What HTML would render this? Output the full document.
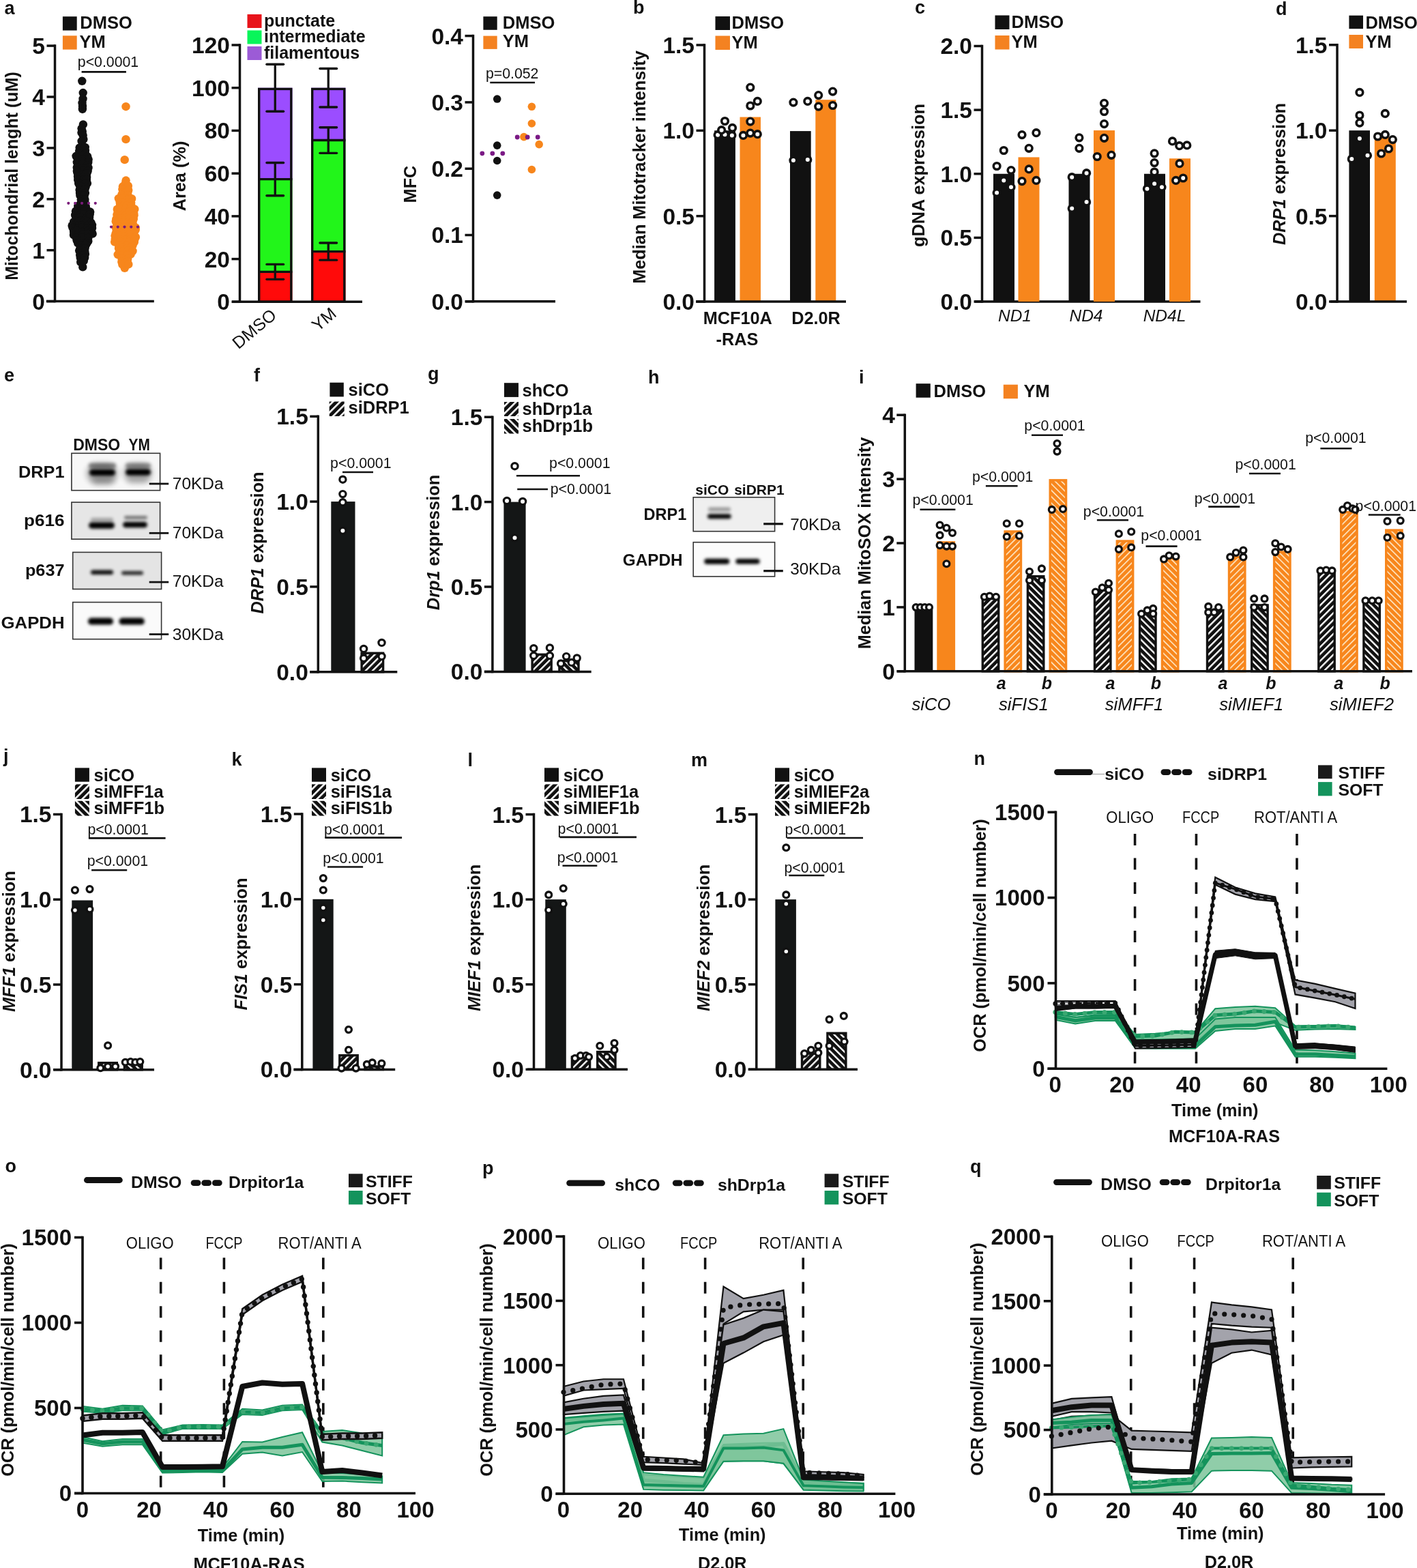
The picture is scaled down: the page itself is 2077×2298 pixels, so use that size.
<!DOCTYPE html>
<html><head><meta charset="utf-8"><title>Figure</title>
<style>html,body{margin:0;padding:0;background:#fff;} svg{display:block;} text{font-family:'Liberation Sans', sans-serif;}</style>
</head><body>
<svg width="2077" height="2298" viewBox="0 0 2077 2298" fill="#111">
<defs>
<pattern id="hA" patternUnits="userSpaceOnUse" width="7.2" height="7.2" patternTransform="rotate(45)">
<rect width="7.2" height="7.2" fill="#111"/><rect x="0" width="2.4" height="7.2" fill="#fff"/></pattern>
<pattern id="hB" patternUnits="userSpaceOnUse" width="7.2" height="7.2" patternTransform="rotate(-45)">
<rect width="7.2" height="7.2" fill="#111"/><rect x="0" width="2.4" height="7.2" fill="#fff"/></pattern>
<pattern id="hL" patternUnits="userSpaceOnUse" width="7.6" height="7.6" patternTransform="rotate(45)">
<rect width="7.6" height="7.6" fill="#111"/><rect x="0" width="2.6" height="7.6" fill="#fff"/></pattern>
<pattern id="hLB" patternUnits="userSpaceOnUse" width="7.6" height="7.6" patternTransform="rotate(-45)">
<rect width="7.6" height="7.6" fill="#111"/><rect x="0" width="2.6" height="7.6" fill="#fff"/></pattern>
<pattern id="oA" patternUnits="userSpaceOnUse" width="6.6" height="6.6" patternTransform="rotate(45)">
<rect width="6.6" height="6.6" fill="#F7861C"/><rect x="0" width="1.5" height="6.6" fill="#FFF1D6"/></pattern>
<pattern id="oB" patternUnits="userSpaceOnUse" width="6.6" height="6.6" patternTransform="rotate(-45)">
<rect width="6.6" height="6.6" fill="#F7861C"/><rect x="0" width="1.5" height="6.6" fill="#FFF1D6"/></pattern>
</defs>
<rect width="2077" height="2298" fill="#fff"/>
<text x="6.5" y="21" font-size="27" font-weight="bold">a</text>
<circle cx="120.27" cy="118.78" r="6.2" fill="#111"/>
<circle cx="121.69" cy="136.01" r="6.2" fill="#111"/>
<circle cx="121.53" cy="145" r="6.2" fill="#111"/>
<circle cx="120.51" cy="150.99" r="6.2" fill="#111"/>
<circle cx="120.99" cy="155.48" r="6.2" fill="#111"/>
<circle cx="120.9" cy="159.98" r="6.2" fill="#111"/>
<circle cx="121.3" cy="391.42" r="6.2" fill="#111"/>
<circle cx="121.87" cy="182.38" r="6.2" fill="#111"/>
<circle cx="119.59" cy="188.37" r="6.2" fill="#111"/>
<circle cx="120.8" cy="192.72" r="6.2" fill="#111"/>
<circle cx="119.51" cy="194.32" r="6.2" fill="#111"/>
<circle cx="121.66" cy="198.39" r="6.2" fill="#111"/>
<circle cx="122.34" cy="204.23" r="6.2" fill="#111"/>
<circle cx="119.59" cy="206.98" r="6.2" fill="#111"/>
<circle cx="121.12" cy="213.31" r="6.2" fill="#111"/>
<circle cx="116.64" cy="216.33" r="6.2" fill="#111"/>
<circle cx="124.77" cy="215.96" r="6.2" fill="#111"/>
<circle cx="116.17" cy="221.28" r="6.2" fill="#111"/>
<circle cx="124.99" cy="220.87" r="6.2" fill="#111"/>
<circle cx="116.19" cy="225.34" r="6.2" fill="#111"/>
<circle cx="124.88" cy="225.48" r="6.2" fill="#111"/>
<circle cx="111.56" cy="228.81" r="6.2" fill="#111"/>
<circle cx="121.17" cy="228.42" r="6.2" fill="#111"/>
<circle cx="128.06" cy="229.12" r="6.2" fill="#111"/>
<circle cx="114.08" cy="231.88" r="6.2" fill="#111"/>
<circle cx="120.5" cy="233.08" r="6.2" fill="#111"/>
<circle cx="129.63" cy="233.51" r="6.2" fill="#111"/>
<circle cx="112.77" cy="237.8" r="6.2" fill="#111"/>
<circle cx="121.51" cy="236.74" r="6.2" fill="#111"/>
<circle cx="129.26" cy="237.9" r="6.2" fill="#111"/>
<circle cx="114.04" cy="241.65" r="6.2" fill="#111"/>
<circle cx="121.27" cy="240.7" r="6.2" fill="#111"/>
<circle cx="128.23" cy="242.23" r="6.2" fill="#111"/>
<circle cx="112.74" cy="245.48" r="6.2" fill="#111"/>
<circle cx="121.15" cy="246.54" r="6.2" fill="#111"/>
<circle cx="129.52" cy="245.88" r="6.2" fill="#111"/>
<circle cx="112.82" cy="250.65" r="6.2" fill="#111"/>
<circle cx="121.84" cy="250.68" r="6.2" fill="#111"/>
<circle cx="128.68" cy="250.61" r="6.2" fill="#111"/>
<circle cx="113.59" cy="253.44" r="6.2" fill="#111"/>
<circle cx="121.61" cy="255.32" r="6.2" fill="#111"/>
<circle cx="127.28" cy="254.14" r="6.2" fill="#111"/>
<circle cx="114.01" cy="258.85" r="6.2" fill="#111"/>
<circle cx="122.45" cy="259.39" r="6.2" fill="#111"/>
<circle cx="127.12" cy="259.57" r="6.2" fill="#111"/>
<circle cx="114.2" cy="263.38" r="6.2" fill="#111"/>
<circle cx="122.36" cy="263.51" r="6.2" fill="#111"/>
<circle cx="126.88" cy="262.89" r="6.2" fill="#111"/>
<circle cx="115.14" cy="268.76" r="6.2" fill="#111"/>
<circle cx="119.52" cy="268.42" r="6.2" fill="#111"/>
<circle cx="127.96" cy="268.62" r="6.2" fill="#111"/>
<circle cx="118.22" cy="269.95" r="6.2" fill="#111"/>
<circle cx="124.56" cy="269.45" r="6.2" fill="#111"/>
<circle cx="117.28" cy="272.94" r="6.2" fill="#111"/>
<circle cx="125.61" cy="273.97" r="6.2" fill="#111"/>
<circle cx="116.6" cy="278.34" r="6.2" fill="#111"/>
<circle cx="124.45" cy="278.04" r="6.2" fill="#111"/>
<circle cx="117.04" cy="282.91" r="6.2" fill="#111"/>
<circle cx="124.87" cy="283.05" r="6.2" fill="#111"/>
<circle cx="117.37" cy="286.39" r="6.2" fill="#111"/>
<circle cx="123.69" cy="286.68" r="6.2" fill="#111"/>
<circle cx="118.75" cy="292.52" r="6.2" fill="#111"/>
<circle cx="124.4" cy="292.39" r="6.2" fill="#111"/>
<circle cx="119.45" cy="295.81" r="6.2" fill="#111"/>
<circle cx="124.53" cy="296.65" r="6.2" fill="#111"/>
<circle cx="117.25" cy="299.83" r="6.2" fill="#111"/>
<circle cx="122.04" cy="301.31" r="6.2" fill="#111"/>
<circle cx="114.25" cy="302.25" r="6.2" fill="#111"/>
<circle cx="121.37" cy="302.72" r="6.2" fill="#111"/>
<circle cx="125.71" cy="302.35" r="6.2" fill="#111"/>
<circle cx="115.08" cy="306.87" r="6.2" fill="#111"/>
<circle cx="120.32" cy="307.96" r="6.2" fill="#111"/>
<circle cx="126.86" cy="307.18" r="6.2" fill="#111"/>
<circle cx="110.92" cy="309.57" r="6.2" fill="#111"/>
<circle cx="117.33" cy="310.37" r="6.2" fill="#111"/>
<circle cx="123.4" cy="309.74" r="6.2" fill="#111"/>
<circle cx="132.2" cy="310.55" r="6.2" fill="#111"/>
<circle cx="110.13" cy="315.24" r="6.2" fill="#111"/>
<circle cx="118.62" cy="314.07" r="6.2" fill="#111"/>
<circle cx="122.89" cy="314.32" r="6.2" fill="#111"/>
<circle cx="131.66" cy="314.35" r="6.2" fill="#111"/>
<circle cx="111.61" cy="319.88" r="6.2" fill="#111"/>
<circle cx="117.8" cy="318.97" r="6.2" fill="#111"/>
<circle cx="125.76" cy="320.12" r="6.2" fill="#111"/>
<circle cx="131.05" cy="318.97" r="6.2" fill="#111"/>
<circle cx="111.45" cy="323.81" r="6.2" fill="#111"/>
<circle cx="117.89" cy="323.67" r="6.2" fill="#111"/>
<circle cx="124.73" cy="323.14" r="6.2" fill="#111"/>
<circle cx="130.4" cy="324.96" r="6.2" fill="#111"/>
<circle cx="108.13" cy="325.12" r="6.2" fill="#111"/>
<circle cx="115.08" cy="325.13" r="6.2" fill="#111"/>
<circle cx="122.32" cy="325.99" r="6.2" fill="#111"/>
<circle cx="127.75" cy="325.01" r="6.2" fill="#111"/>
<circle cx="133.53" cy="326.26" r="6.2" fill="#111"/>
<circle cx="105.61" cy="330.64" r="6.2" fill="#111"/>
<circle cx="115.39" cy="330.15" r="6.2" fill="#111"/>
<circle cx="120.01" cy="330.74" r="6.2" fill="#111"/>
<circle cx="129.42" cy="330.41" r="6.2" fill="#111"/>
<circle cx="135.03" cy="329.76" r="6.2" fill="#111"/>
<circle cx="106.54" cy="333.92" r="6.2" fill="#111"/>
<circle cx="114.52" cy="334.37" r="6.2" fill="#111"/>
<circle cx="120.08" cy="333.71" r="6.2" fill="#111"/>
<circle cx="128.5" cy="334.1" r="6.2" fill="#111"/>
<circle cx="135" cy="334.16" r="6.2" fill="#111"/>
<circle cx="108.11" cy="339.8" r="6.2" fill="#111"/>
<circle cx="112.55" cy="338.41" r="6.2" fill="#111"/>
<circle cx="120.48" cy="339.98" r="6.2" fill="#111"/>
<circle cx="128.85" cy="338.68" r="6.2" fill="#111"/>
<circle cx="134.14" cy="339.35" r="6.2" fill="#111"/>
<circle cx="108.01" cy="344.37" r="6.2" fill="#111"/>
<circle cx="113.53" cy="344.27" r="6.2" fill="#111"/>
<circle cx="121.56" cy="343.47" r="6.2" fill="#111"/>
<circle cx="129.46" cy="342.97" r="6.2" fill="#111"/>
<circle cx="135.68" cy="342.67" r="6.2" fill="#111"/>
<circle cx="112.01" cy="348.8" r="6.2" fill="#111"/>
<circle cx="120.14" cy="348.49" r="6.2" fill="#111"/>
<circle cx="129.3" cy="348.66" r="6.2" fill="#111"/>
<circle cx="112.6" cy="352.16" r="6.2" fill="#111"/>
<circle cx="120.37" cy="353.21" r="6.2" fill="#111"/>
<circle cx="129.31" cy="353.38" r="6.2" fill="#111"/>
<circle cx="114.16" cy="356.25" r="6.2" fill="#111"/>
<circle cx="121.15" cy="356.18" r="6.2" fill="#111"/>
<circle cx="127.62" cy="356.12" r="6.2" fill="#111"/>
<circle cx="118.1" cy="359.79" r="6.2" fill="#111"/>
<circle cx="125.99" cy="358.89" r="6.2" fill="#111"/>
<circle cx="117.35" cy="364.27" r="6.2" fill="#111"/>
<circle cx="124.63" cy="363.85" r="6.2" fill="#111"/>
<circle cx="116.17" cy="367.37" r="6.2" fill="#111"/>
<circle cx="124.3" cy="368.99" r="6.2" fill="#111"/>
<circle cx="117.19" cy="373.56" r="6.2" fill="#111"/>
<circle cx="124.87" cy="372.26" r="6.2" fill="#111"/>
<circle cx="119.86" cy="374.85" r="6.2" fill="#111"/>
<circle cx="121.54" cy="374.53" r="6.2" fill="#111"/>
<circle cx="117.78" cy="377.92" r="6.2" fill="#111"/>
<circle cx="124.16" cy="377.77" r="6.2" fill="#111"/>
<circle cx="118.22" cy="384.17" r="6.2" fill="#111"/>
<circle cx="122.76" cy="382.42" r="6.2" fill="#111"/>
<circle cx="184.51" cy="156.23" r="6.2" fill="#F7861C"/>
<circle cx="184.5" cy="204.17" r="6.2" fill="#F7861C"/>
<circle cx="182.71" cy="234.13" r="6.2" fill="#F7861C"/>
<circle cx="182.77" cy="392.92" r="6.2" fill="#F7861C"/>
<circle cx="184.61" cy="264.56" r="6.2" fill="#F7861C"/>
<circle cx="184.11" cy="268.2" r="6.2" fill="#F7861C"/>
<circle cx="179.92" cy="273.29" r="6.2" fill="#F7861C"/>
<circle cx="187.84" cy="272.39" r="6.2" fill="#F7861C"/>
<circle cx="179.39" cy="277.36" r="6.2" fill="#F7861C"/>
<circle cx="188.27" cy="278.56" r="6.2" fill="#F7861C"/>
<circle cx="180.95" cy="282.16" r="6.2" fill="#F7861C"/>
<circle cx="187.43" cy="281.61" r="6.2" fill="#F7861C"/>
<circle cx="178.21" cy="285.63" r="6.2" fill="#F7861C"/>
<circle cx="187.49" cy="286.21" r="6.2" fill="#F7861C"/>
<circle cx="179.24" cy="291.86" r="6.2" fill="#F7861C"/>
<circle cx="187.68" cy="291.2" r="6.2" fill="#F7861C"/>
<circle cx="173.81" cy="290.85" r="6.2" fill="#F7861C"/>
<circle cx="180.08" cy="291.07" r="6.2" fill="#F7861C"/>
<circle cx="186.63" cy="292.8" r="6.2" fill="#F7861C"/>
<circle cx="193.12" cy="291.16" r="6.2" fill="#F7861C"/>
<circle cx="175.78" cy="296.89" r="6.2" fill="#F7861C"/>
<circle cx="181.3" cy="297.11" r="6.2" fill="#F7861C"/>
<circle cx="187.39" cy="296.88" r="6.2" fill="#F7861C"/>
<circle cx="192.16" cy="297.26" r="6.2" fill="#F7861C"/>
<circle cx="175.99" cy="300.12" r="6.2" fill="#F7861C"/>
<circle cx="181.36" cy="301.23" r="6.2" fill="#F7861C"/>
<circle cx="186.48" cy="300.86" r="6.2" fill="#F7861C"/>
<circle cx="192.57" cy="301.65" r="6.2" fill="#F7861C"/>
<circle cx="174.6" cy="305.96" r="6.2" fill="#F7861C"/>
<circle cx="180.16" cy="306.07" r="6.2" fill="#F7861C"/>
<circle cx="187.8" cy="305.22" r="6.2" fill="#F7861C"/>
<circle cx="192.8" cy="306.14" r="6.2" fill="#F7861C"/>
<circle cx="171.77" cy="306.75" r="6.2" fill="#F7861C"/>
<circle cx="176.52" cy="306.43" r="6.2" fill="#F7861C"/>
<circle cx="184.2" cy="306.11" r="6.2" fill="#F7861C"/>
<circle cx="191.07" cy="306.32" r="6.2" fill="#F7861C"/>
<circle cx="197.33" cy="306.4" r="6.2" fill="#F7861C"/>
<circle cx="172.47" cy="311.69" r="6.2" fill="#F7861C"/>
<circle cx="177.36" cy="311.32" r="6.2" fill="#F7861C"/>
<circle cx="184.05" cy="311.46" r="6.2" fill="#F7861C"/>
<circle cx="189.29" cy="310.7" r="6.2" fill="#F7861C"/>
<circle cx="196.14" cy="312.15" r="6.2" fill="#F7861C"/>
<circle cx="171.47" cy="314.93" r="6.2" fill="#F7861C"/>
<circle cx="178.31" cy="316.23" r="6.2" fill="#F7861C"/>
<circle cx="184.82" cy="315.16" r="6.2" fill="#F7861C"/>
<circle cx="190.58" cy="314.9" r="6.2" fill="#F7861C"/>
<circle cx="196.56" cy="315.33" r="6.2" fill="#F7861C"/>
<circle cx="170.28" cy="321.03" r="6.2" fill="#F7861C"/>
<circle cx="176.17" cy="320.32" r="6.2" fill="#F7861C"/>
<circle cx="184.66" cy="319.77" r="6.2" fill="#F7861C"/>
<circle cx="188.98" cy="321.04" r="6.2" fill="#F7861C"/>
<circle cx="195.87" cy="320.71" r="6.2" fill="#F7861C"/>
<circle cx="169.7" cy="324.5" r="6.2" fill="#F7861C"/>
<circle cx="176.37" cy="325.13" r="6.2" fill="#F7861C"/>
<circle cx="182.35" cy="325.69" r="6.2" fill="#F7861C"/>
<circle cx="188.43" cy="325.24" r="6.2" fill="#F7861C"/>
<circle cx="194.66" cy="324.29" r="6.2" fill="#F7861C"/>
<circle cx="172.04" cy="328.59" r="6.2" fill="#F7861C"/>
<circle cx="176.4" cy="329.66" r="6.2" fill="#F7861C"/>
<circle cx="183.26" cy="328.37" r="6.2" fill="#F7861C"/>
<circle cx="191.32" cy="328.58" r="6.2" fill="#F7861C"/>
<circle cx="194.71" cy="328.97" r="6.2" fill="#F7861C"/>
<circle cx="169.95" cy="333.48" r="6.2" fill="#F7861C"/>
<circle cx="175.44" cy="332.67" r="6.2" fill="#F7861C"/>
<circle cx="182.19" cy="332.89" r="6.2" fill="#F7861C"/>
<circle cx="191.4" cy="333.47" r="6.2" fill="#F7861C"/>
<circle cx="198.81" cy="333.51" r="6.2" fill="#F7861C"/>
<circle cx="170.69" cy="337.91" r="6.2" fill="#F7861C"/>
<circle cx="176.52" cy="336.95" r="6.2" fill="#F7861C"/>
<circle cx="184.08" cy="337.13" r="6.2" fill="#F7861C"/>
<circle cx="189.41" cy="337.39" r="6.2" fill="#F7861C"/>
<circle cx="198.72" cy="336.75" r="6.2" fill="#F7861C"/>
<circle cx="169.85" cy="341.78" r="6.2" fill="#F7861C"/>
<circle cx="176.64" cy="341.28" r="6.2" fill="#F7861C"/>
<circle cx="184.98" cy="341.51" r="6.2" fill="#F7861C"/>
<circle cx="190.92" cy="341.83" r="6.2" fill="#F7861C"/>
<circle cx="196.15" cy="342.11" r="6.2" fill="#F7861C"/>
<circle cx="168.52" cy="345.61" r="6.2" fill="#F7861C"/>
<circle cx="175.2" cy="345.82" r="6.2" fill="#F7861C"/>
<circle cx="182.39" cy="346.77" r="6.2" fill="#F7861C"/>
<circle cx="190.62" cy="347.46" r="6.2" fill="#F7861C"/>
<circle cx="198.9" cy="347.48" r="6.2" fill="#F7861C"/>
<circle cx="168.8" cy="350.88" r="6.2" fill="#F7861C"/>
<circle cx="175.85" cy="351.18" r="6.2" fill="#F7861C"/>
<circle cx="183.97" cy="351.6" r="6.2" fill="#F7861C"/>
<circle cx="191.23" cy="350.51" r="6.2" fill="#F7861C"/>
<circle cx="197.37" cy="351.05" r="6.2" fill="#F7861C"/>
<circle cx="168.11" cy="354.57" r="6.2" fill="#F7861C"/>
<circle cx="176.33" cy="354.72" r="6.2" fill="#F7861C"/>
<circle cx="184.27" cy="354.98" r="6.2" fill="#F7861C"/>
<circle cx="189.4" cy="354.86" r="6.2" fill="#F7861C"/>
<circle cx="196.79" cy="354.93" r="6.2" fill="#F7861C"/>
<circle cx="174.16" cy="359.14" r="6.2" fill="#F7861C"/>
<circle cx="179.86" cy="359.49" r="6.2" fill="#F7861C"/>
<circle cx="185.9" cy="360.02" r="6.2" fill="#F7861C"/>
<circle cx="194.49" cy="359.67" r="6.2" fill="#F7861C"/>
<circle cx="173.9" cy="363.73" r="6.2" fill="#F7861C"/>
<circle cx="180.68" cy="362.81" r="6.2" fill="#F7861C"/>
<circle cx="186.52" cy="363.76" r="6.2" fill="#F7861C"/>
<circle cx="192.14" cy="362.9" r="6.2" fill="#F7861C"/>
<circle cx="175.01" cy="367.94" r="6.2" fill="#F7861C"/>
<circle cx="180.49" cy="369.05" r="6.2" fill="#F7861C"/>
<circle cx="187.1" cy="367.79" r="6.2" fill="#F7861C"/>
<circle cx="194.55" cy="367.95" r="6.2" fill="#F7861C"/>
<circle cx="172.66" cy="373.08" r="6.2" fill="#F7861C"/>
<circle cx="179.24" cy="372.32" r="6.2" fill="#F7861C"/>
<circle cx="187.79" cy="373.06" r="6.2" fill="#F7861C"/>
<circle cx="191.65" cy="372.61" r="6.2" fill="#F7861C"/>
<circle cx="179.33" cy="374.16" r="6.2" fill="#F7861C"/>
<circle cx="186.72" cy="374.37" r="6.2" fill="#F7861C"/>
<circle cx="178.32" cy="378.26" r="6.2" fill="#F7861C"/>
<circle cx="187.22" cy="379.56" r="6.2" fill="#F7861C"/>
<circle cx="178.33" cy="383.7" r="6.2" fill="#F7861C"/>
<circle cx="186.68" cy="383.33" r="6.2" fill="#F7861C"/>
<circle cx="179.28" cy="387.62" r="6.2" fill="#F7861C"/>
<circle cx="188.36" cy="387.48" r="6.2" fill="#F7861C"/>
<circle cx="100.3" cy="297.79" r="2.1" fill="#7a1a7a"/>
<circle cx="110.17" cy="297.79" r="2.1" fill="#7a1a7a"/>
<circle cx="120.05" cy="297.79" r="2.1" fill="#7a1a7a"/>
<circle cx="129.93" cy="297.79" r="2.1" fill="#7a1a7a"/>
<circle cx="139.8" cy="297.79" r="2.1" fill="#7a1a7a"/>
<circle cx="163" cy="332.55" r="2.1" fill="#7a1a7a"/>
<circle cx="172.75" cy="332.55" r="2.1" fill="#7a1a7a"/>
<circle cx="182.5" cy="332.55" r="2.1" fill="#7a1a7a"/>
<circle cx="192.25" cy="332.55" r="2.1" fill="#7a1a7a"/>
<circle cx="202" cy="332.55" r="2.1" fill="#7a1a7a"/>
<line x1="80.5" y1="65.35" x2="80.5" y2="443.35" stroke="#111" stroke-width="3.5"/>
<line x1="67.8" y1="441.6" x2="225.8" y2="441.6" stroke="#111" stroke-width="3.5"/>
<line x1="68.5" y1="441.6" x2="80.5" y2="441.6" stroke="#111" stroke-width="3.5"/>
<text x="66" y="453.59" font-size="33.5" font-weight="bold" text-anchor="end">0</text>
<line x1="68.5" y1="366.7" x2="80.5" y2="366.7" stroke="#111" stroke-width="3.5"/>
<text x="66" y="378.69" font-size="33.5" font-weight="bold" text-anchor="end">1</text>
<line x1="68.5" y1="291.8" x2="80.5" y2="291.8" stroke="#111" stroke-width="3.5"/>
<text x="66" y="303.79" font-size="33.5" font-weight="bold" text-anchor="end">2</text>
<line x1="68.5" y1="216.9" x2="80.5" y2="216.9" stroke="#111" stroke-width="3.5"/>
<text x="66" y="228.89" font-size="33.5" font-weight="bold" text-anchor="end">3</text>
<line x1="68.5" y1="142" x2="80.5" y2="142" stroke="#111" stroke-width="3.5"/>
<text x="66" y="153.99" font-size="33.5" font-weight="bold" text-anchor="end">4</text>
<line x1="68.5" y1="67.1" x2="80.5" y2="67.1" stroke="#111" stroke-width="3.5"/>
<text x="66" y="79.09" font-size="33.5" font-weight="bold" text-anchor="end">5</text>
<rect x="91.9" y="24.2" width="20.8" height="20.4" fill="#111"/>
<text x="117.3" y="42.1" font-size="25.5" font-weight="bold">DMSO</text>
<rect x="91.9" y="52.3" width="20.8" height="20.3" fill="#F48221"/>
<text x="116.5" y="69.6" font-size="25.5" font-weight="bold">YM</text>
<line x1="119.6" y1="105.4" x2="184.9" y2="105.4" stroke="#111" stroke-width="2.6"/>
<text x="113.8" y="98.4" font-size="21.3">p&lt;0.0001</text>
<text x="25.5" y="258" font-size="25" font-weight="bold" text-anchor="middle" transform="rotate(-90 25.5 258)">Mitochondrial lenght (uM)</text>
<rect x="378" y="398.4" width="50.5" height="43.9" fill="#FF0A0A"/>
<rect x="378" y="262.62" width="50.5" height="135.78" fill="#22F51A"/>
<rect x="378" y="128.72" width="50.5" height="133.9" fill="#9B4DFF"/>
<rect x="379.7" y="130.42" width="47.1" height="311.88" fill="none" stroke="#111" stroke-width="3.4"/>
<line x1="378" y1="398.4" x2="428.5" y2="398.4" stroke="#111" stroke-width="3.4"/>
<line x1="378" y1="262.62" x2="428.5" y2="262.62" stroke="#111" stroke-width="3.4"/>
<line x1="403.25" y1="94.22" x2="403.25" y2="163.21" stroke="#111" stroke-width="3.3"/>
<line x1="390.95" y1="94.22" x2="415.55" y2="94.22" stroke="#111" stroke-width="3.4" stroke-linecap="round"/>
<line x1="390.95" y1="163.21" x2="415.55" y2="163.21" stroke="#111" stroke-width="3.4" stroke-linecap="round"/>
<line x1="403.25" y1="238.47" x2="403.25" y2="286.76" stroke="#111" stroke-width="3.3"/>
<line x1="390.95" y1="238.47" x2="415.55" y2="238.47" stroke="#111" stroke-width="3.4" stroke-linecap="round"/>
<line x1="390.95" y1="286.76" x2="415.55" y2="286.76" stroke="#111" stroke-width="3.4" stroke-linecap="round"/>
<line x1="403.25" y1="387.42" x2="403.25" y2="409.37" stroke="#111" stroke-width="3.3"/>
<line x1="390.95" y1="387.42" x2="415.55" y2="387.42" stroke="#111" stroke-width="3.4" stroke-linecap="round"/>
<line x1="390.95" y1="409.37" x2="415.55" y2="409.37" stroke="#111" stroke-width="3.4" stroke-linecap="round"/>
<rect x="456" y="368.61" width="50.5" height="73.69" fill="#FF0A0A"/>
<rect x="456" y="205.54" width="50.5" height="163.06" fill="#22F51A"/>
<rect x="456" y="128.72" width="50.5" height="76.83" fill="#9B4DFF"/>
<rect x="457.7" y="130.42" width="47.1" height="311.88" fill="none" stroke="#111" stroke-width="3.4"/>
<line x1="456" y1="368.61" x2="506.5" y2="368.61" stroke="#111" stroke-width="3.4"/>
<line x1="456" y1="205.54" x2="506.5" y2="205.54" stroke="#111" stroke-width="3.4"/>
<line x1="481.25" y1="100.49" x2="481.25" y2="156.94" stroke="#111" stroke-width="3.3"/>
<line x1="468.95" y1="100.49" x2="493.55" y2="100.49" stroke="#111" stroke-width="3.4" stroke-linecap="round"/>
<line x1="468.95" y1="156.94" x2="493.55" y2="156.94" stroke="#111" stroke-width="3.4" stroke-linecap="round"/>
<line x1="481.25" y1="186.73" x2="481.25" y2="224.36" stroke="#111" stroke-width="3.3"/>
<line x1="468.95" y1="186.73" x2="493.55" y2="186.73" stroke="#111" stroke-width="3.4" stroke-linecap="round"/>
<line x1="468.95" y1="224.36" x2="493.55" y2="224.36" stroke="#111" stroke-width="3.4" stroke-linecap="round"/>
<line x1="481.25" y1="356.06" x2="481.25" y2="381.15" stroke="#111" stroke-width="3.3"/>
<line x1="468.95" y1="356.06" x2="493.55" y2="356.06" stroke="#111" stroke-width="3.4" stroke-linecap="round"/>
<line x1="468.95" y1="381.15" x2="493.55" y2="381.15" stroke="#111" stroke-width="3.4" stroke-linecap="round"/>
<line x1="351.5" y1="64.25" x2="351.5" y2="444.05" stroke="#111" stroke-width="3.5"/>
<line x1="340" y1="442.3" x2="531" y2="442.3" stroke="#111" stroke-width="3.5"/>
<line x1="339.5" y1="442.3" x2="351.5" y2="442.3" stroke="#111" stroke-width="3.5"/>
<text x="337" y="454.29" font-size="33.5" font-weight="bold" text-anchor="end">0</text>
<line x1="339.5" y1="379.58" x2="351.5" y2="379.58" stroke="#111" stroke-width="3.5"/>
<text x="337" y="391.58" font-size="33.5" font-weight="bold" text-anchor="end">20</text>
<line x1="339.5" y1="316.87" x2="351.5" y2="316.87" stroke="#111" stroke-width="3.5"/>
<text x="337" y="328.86" font-size="33.5" font-weight="bold" text-anchor="end">40</text>
<line x1="339.5" y1="254.15" x2="351.5" y2="254.15" stroke="#111" stroke-width="3.5"/>
<text x="337" y="266.14" font-size="33.5" font-weight="bold" text-anchor="end">60</text>
<line x1="339.5" y1="191.43" x2="351.5" y2="191.43" stroke="#111" stroke-width="3.5"/>
<text x="337" y="203.43" font-size="33.5" font-weight="bold" text-anchor="end">80</text>
<line x1="339.5" y1="128.72" x2="351.5" y2="128.72" stroke="#111" stroke-width="3.5"/>
<text x="337" y="140.71" font-size="33.5" font-weight="bold" text-anchor="end">100</text>
<line x1="339.5" y1="66" x2="351.5" y2="66" stroke="#111" stroke-width="3.5"/>
<text x="337" y="77.99" font-size="33.5" font-weight="bold" text-anchor="end">120</text>
<rect x="362.5" y="21" width="21" height="20" fill="#E8141B"/>
<text x="387" y="38.5" font-size="24.99" font-weight="bold">punctate</text>
<rect x="362.5" y="44.5" width="21" height="20" fill="#08F55A"/>
<text x="387" y="62" font-size="24.99" font-weight="bold">intermediate</text>
<rect x="362.5" y="68" width="21" height="20" fill="#9C5BD6"/>
<text x="387" y="85.5" font-size="24.99" font-weight="bold">filamentous</text>
<text x="349.5" y="512.6" font-size="25" transform="rotate(-40 349.5 512.6)">DMSO</text>
<text x="466" y="486.5" font-size="25" transform="rotate(-40 466 486.5)">YM</text>
<text x="271.5" y="258" font-size="25.3" font-weight="bold" text-anchor="middle" transform="rotate(-90 271.5 258)">Area (%)</text>
<line x1="693.5" y1="50.85" x2="693.5" y2="443.55" stroke="#111" stroke-width="3.5"/>
<line x1="682" y1="441.8" x2="814" y2="441.8" stroke="#111" stroke-width="3.5"/>
<line x1="681.5" y1="441.8" x2="693.5" y2="441.8" stroke="#111" stroke-width="3.5"/>
<text x="679" y="453.79" font-size="33.5" font-weight="bold" text-anchor="end">0.0</text>
<line x1="681.5" y1="344.5" x2="693.5" y2="344.5" stroke="#111" stroke-width="3.5"/>
<text x="679" y="356.49" font-size="33.5" font-weight="bold" text-anchor="end">0.1</text>
<line x1="681.5" y1="247.2" x2="693.5" y2="247.2" stroke="#111" stroke-width="3.5"/>
<text x="679" y="259.19" font-size="33.5" font-weight="bold" text-anchor="end">0.2</text>
<line x1="681.5" y1="149.9" x2="693.5" y2="149.9" stroke="#111" stroke-width="3.5"/>
<text x="679" y="161.89" font-size="33.5" font-weight="bold" text-anchor="end">0.3</text>
<line x1="681.5" y1="52.6" x2="693.5" y2="52.6" stroke="#111" stroke-width="3.5"/>
<text x="679" y="64.59" font-size="33.5" font-weight="bold" text-anchor="end">0.4</text>
<rect x="708.4" y="24.2" width="20.3" height="19.6" fill="#111"/>
<text x="736.8" y="41.5" font-size="25.5" font-weight="bold">DMSO</text>
<rect x="708.4" y="52.6" width="20.3" height="19.3" fill="#F48221"/>
<text x="736.8" y="69.2" font-size="25.5" font-weight="bold">YM</text>
<line x1="718.3" y1="121" x2="784" y2="121" stroke="#111" stroke-width="2.6"/>
<text x="711.9" y="115.3" font-size="21.3">p=0.052</text>
<circle cx="728.7" cy="145.04" r="5.8" fill="#111"/>
<circle cx="728.7" cy="213.15" r="5.8" fill="#111"/>
<circle cx="728.7" cy="235.52" r="5.8" fill="#111"/>
<circle cx="728.7" cy="286.12" r="5.8" fill="#111"/>
<circle cx="779.4" cy="156.3" r="5.8" fill="#F7861C"/>
<circle cx="779.4" cy="181" r="5.8" fill="#F7861C"/>
<circle cx="767.9" cy="200.6" r="5.8" fill="#F7861C"/>
<circle cx="790.2" cy="211.6" r="5.8" fill="#F7861C"/>
<circle cx="779.4" cy="248.5" r="5.8" fill="#F7861C"/>
<circle cx="706.8" cy="224.8" r="3.4" fill="#7B1A85"/>
<circle cx="721.8" cy="224.8" r="3.4" fill="#7B1A85"/>
<circle cx="736.8" cy="224.8" r="3.4" fill="#7B1A85"/>
<circle cx="758.2" cy="201" r="3.4" fill="#7B1A85"/>
<circle cx="773.2" cy="201" r="3.4" fill="#7B1A85"/>
<circle cx="788.2" cy="201" r="3.4" fill="#7B1A85"/>
<text x="610" y="270" font-size="25.3" font-weight="bold" text-anchor="middle" transform="rotate(-90 610 270)">MFC</text>
<text x="928" y="20" font-size="27" font-weight="bold">b</text>
<rect x="1047.1" y="191.33" width="30.8" height="250.67" fill="#111"/>
<rect x="1084.5" y="171.53" width="30.5" height="270.47" fill="#F7861C"/>
<rect x="1158" y="192.09" width="30.7" height="249.91" fill="#111"/>
<rect x="1195.3" y="146.21" width="30" height="295.79" fill="#F7861C"/>
<line x1="1032.5" y1="64.25" x2="1032.5" y2="443.75" stroke="#111" stroke-width="3.5"/>
<line x1="1020" y1="442" x2="1240" y2="442" stroke="#111" stroke-width="3.5"/>
<line x1="1020.5" y1="442" x2="1032.5" y2="442" stroke="#111" stroke-width="3.5"/>
<text x="1018" y="453.99" font-size="33.5" font-weight="bold" text-anchor="end">0.0</text>
<line x1="1020.5" y1="316.67" x2="1032.5" y2="316.67" stroke="#111" stroke-width="3.5"/>
<text x="1018" y="328.66" font-size="33.5" font-weight="bold" text-anchor="end">0.5</text>
<line x1="1020.5" y1="191.33" x2="1032.5" y2="191.33" stroke="#111" stroke-width="3.5"/>
<text x="1018" y="203.33" font-size="33.5" font-weight="bold" text-anchor="end">1.0</text>
<line x1="1020.5" y1="66" x2="1032.5" y2="66" stroke="#111" stroke-width="3.5"/>
<text x="1018" y="77.99" font-size="33.5" font-weight="bold" text-anchor="end">1.5</text>
<circle cx="1052.1" cy="197.8" r="4.8" fill="#fff" stroke="#111" stroke-width="3.6"/>
<circle cx="1062.5" cy="197.3" r="4.8" fill="#fff" stroke="#111" stroke-width="3.6"/>
<circle cx="1072.9" cy="198.4" r="4.8" fill="#fff" stroke="#111" stroke-width="3.6"/>
<circle cx="1057.6" cy="190.7" r="4.8" fill="#fff" stroke="#111" stroke-width="3.6"/>
<circle cx="1073.5" cy="187.4" r="4.8" fill="#fff" stroke="#111" stroke-width="3.6"/>
<circle cx="1062.5" cy="177.5" r="4.8" fill="#fff" stroke="#111" stroke-width="3.6"/>
<circle cx="1089.4" cy="198.4" r="4.8" fill="#fff" stroke="#111" stroke-width="3.6"/>
<circle cx="1099.8" cy="195.1" r="4.8" fill="#fff" stroke="#111" stroke-width="3.6"/>
<circle cx="1110.3" cy="196.7" r="4.8" fill="#fff" stroke="#111" stroke-width="3.6"/>
<circle cx="1099.8" cy="178.1" r="4.8" fill="#fff" stroke="#111" stroke-width="3.6"/>
<circle cx="1099.8" cy="155" r="4.8" fill="#fff" stroke="#111" stroke-width="3.6"/>
<circle cx="1110.3" cy="148.4" r="4.8" fill="#fff" stroke="#111" stroke-width="3.6"/>
<circle cx="1099.8" cy="128.1" r="4.8" fill="#fff" stroke="#111" stroke-width="3.6"/>
<circle cx="1162.9" cy="150.1" r="4.8" fill="#fff" stroke="#111" stroke-width="3.6"/>
<circle cx="1183.8" cy="148.4" r="4.8" fill="#fff" stroke="#111" stroke-width="3.6"/>
<circle cx="1162.9" cy="235.1" r="4.8" fill="#fff" stroke="#111" stroke-width="3.6"/>
<circle cx="1183.8" cy="234" r="4.8" fill="#fff" stroke="#111" stroke-width="3.6"/>
<circle cx="1199.7" cy="139.6" r="4.8" fill="#fff" stroke="#111" stroke-width="3.6"/>
<circle cx="1220.6" cy="134.1" r="4.8" fill="#fff" stroke="#111" stroke-width="3.6"/>
<circle cx="1199.7" cy="156.1" r="4.8" fill="#fff" stroke="#111" stroke-width="3.6"/>
<circle cx="1220.6" cy="154.5" r="4.8" fill="#fff" stroke="#111" stroke-width="3.6"/>
<rect x="1048.5" y="24" width="21.5" height="20" fill="#111"/>
<text x="1072.5" y="42" font-size="25.5" font-weight="bold">DMSO</text>
<rect x="1048.5" y="52.5" width="21.5" height="20.5" fill="#F48221"/>
<text x="1072.5" y="71" font-size="25.5" font-weight="bold">YM</text>
<text x="1081.3" y="475.3" font-size="25.3" font-weight="bold" text-anchor="middle">MCF10A</text>
<text x="1080.5" y="505.5" font-size="25.3" font-weight="bold" text-anchor="middle">-RAS</text>
<text x="1196" y="475.3" font-size="25.3" font-weight="bold" text-anchor="middle">D2.0R</text>
<text x="946" y="245" font-size="25.3" font-weight="bold" text-anchor="middle" transform="rotate(-90 946 245)">Median Mitotracker intensity</text>
<text x="1341" y="20" font-size="27" font-weight="bold">c</text>
<line x1="1439.5" y1="65.75" x2="1439.5" y2="443.75" stroke="#111" stroke-width="3.5"/>
<line x1="1428.5" y1="442" x2="1759.5" y2="442" stroke="#111" stroke-width="3.5"/>
<line x1="1427.5" y1="442" x2="1439.5" y2="442" stroke="#111" stroke-width="3.5"/>
<text x="1425" y="453.99" font-size="33.5" font-weight="bold" text-anchor="end">0.0</text>
<line x1="1427.5" y1="348.38" x2="1439.5" y2="348.38" stroke="#111" stroke-width="3.5"/>
<text x="1425" y="360.37" font-size="33.5" font-weight="bold" text-anchor="end">0.5</text>
<line x1="1427.5" y1="254.75" x2="1439.5" y2="254.75" stroke="#111" stroke-width="3.5"/>
<text x="1425" y="266.74" font-size="33.5" font-weight="bold" text-anchor="end">1.0</text>
<line x1="1427.5" y1="161.12" x2="1439.5" y2="161.12" stroke="#111" stroke-width="3.5"/>
<text x="1425" y="173.12" font-size="33.5" font-weight="bold" text-anchor="end">1.5</text>
<line x1="1427.5" y1="67.5" x2="1439.5" y2="67.5" stroke="#111" stroke-width="3.5"/>
<text x="1425" y="79.49" font-size="33.5" font-weight="bold" text-anchor="end">2.0</text>
<rect x="1456" y="254.75" width="31" height="187.25" fill="#111"/>
<rect x="1492.5" y="230.41" width="31" height="211.59" fill="#F7861C"/>
<rect x="1566.5" y="254.75" width="31" height="187.25" fill="#111"/>
<rect x="1603" y="191.08" width="31" height="250.92" fill="#F7861C"/>
<rect x="1677" y="254.75" width="31" height="187.25" fill="#111"/>
<rect x="1714" y="232.28" width="31" height="209.72" fill="#F7861C"/>
<circle cx="1461.1" cy="243.5" r="4.8" fill="#fff" stroke="#111" stroke-width="3.6"/>
<circle cx="1471.3" cy="220.5" r="4.8" fill="#fff" stroke="#111" stroke-width="3.6"/>
<circle cx="1482" cy="249.6" r="4.8" fill="#fff" stroke="#111" stroke-width="3.6"/>
<circle cx="1471.3" cy="264.4" r="4.8" fill="#fff" stroke="#111" stroke-width="3.6"/>
<circle cx="1482" cy="274.3" r="4.8" fill="#fff" stroke="#111" stroke-width="3.6"/>
<circle cx="1461.1" cy="282.6" r="4.8" fill="#fff" stroke="#111" stroke-width="3.6"/>
<circle cx="1498" cy="197.6" r="4.8" fill="#fff" stroke="#111" stroke-width="3.6"/>
<circle cx="1518.9" cy="194.7" r="4.8" fill="#fff" stroke="#111" stroke-width="3.6"/>
<circle cx="1508.2" cy="217.3" r="4.8" fill="#fff" stroke="#111" stroke-width="3.6"/>
<circle cx="1508.2" cy="247.9" r="4.8" fill="#fff" stroke="#111" stroke-width="3.6"/>
<circle cx="1498" cy="265.6" r="4.8" fill="#fff" stroke="#111" stroke-width="3.6"/>
<circle cx="1518.9" cy="264.4" r="4.8" fill="#fff" stroke="#111" stroke-width="3.6"/>
<circle cx="1581.9" cy="201.8" r="4.8" fill="#fff" stroke="#111" stroke-width="3.6"/>
<circle cx="1581.9" cy="217.3" r="4.8" fill="#fff" stroke="#111" stroke-width="3.6"/>
<circle cx="1571.2" cy="259.7" r="4.8" fill="#fff" stroke="#111" stroke-width="3.6"/>
<circle cx="1592.6" cy="253.7" r="4.8" fill="#fff" stroke="#111" stroke-width="3.6"/>
<circle cx="1592.6" cy="295.9" r="4.8" fill="#fff" stroke="#111" stroke-width="3.6"/>
<circle cx="1571.2" cy="305.6" r="4.8" fill="#fff" stroke="#111" stroke-width="3.6"/>
<circle cx="1618.5" cy="151.3" r="4.8" fill="#fff" stroke="#111" stroke-width="3.6"/>
<circle cx="1618.5" cy="163.5" r="4.8" fill="#fff" stroke="#111" stroke-width="3.6"/>
<circle cx="1618.5" cy="181.6" r="4.8" fill="#fff" stroke="#111" stroke-width="3.6"/>
<circle cx="1618.5" cy="202.3" r="4.8" fill="#fff" stroke="#111" stroke-width="3.6"/>
<circle cx="1608.2" cy="229.5" r="4.8" fill="#fff" stroke="#111" stroke-width="3.6"/>
<circle cx="1629" cy="227.3" r="4.8" fill="#fff" stroke="#111" stroke-width="3.6"/>
<circle cx="1692.1" cy="224.8" r="4.8" fill="#fff" stroke="#111" stroke-width="3.6"/>
<circle cx="1692.1" cy="238.6" r="4.8" fill="#fff" stroke="#111" stroke-width="3.6"/>
<circle cx="1692.1" cy="252" r="4.8" fill="#fff" stroke="#111" stroke-width="3.6"/>
<circle cx="1692.1" cy="269.2" r="4.8" fill="#fff" stroke="#111" stroke-width="3.6"/>
<circle cx="1681.4" cy="276.7" r="4.8" fill="#fff" stroke="#111" stroke-width="3.6"/>
<circle cx="1703" cy="274.3" r="4.8" fill="#fff" stroke="#111" stroke-width="3.6"/>
<circle cx="1718.5" cy="206.9" r="4.8" fill="#fff" stroke="#111" stroke-width="3.6"/>
<circle cx="1728.7" cy="213.7" r="4.8" fill="#fff" stroke="#111" stroke-width="3.6"/>
<circle cx="1739.8" cy="212.9" r="4.8" fill="#fff" stroke="#111" stroke-width="3.6"/>
<circle cx="1729" cy="239.7" r="4.8" fill="#fff" stroke="#111" stroke-width="3.6"/>
<circle cx="1723.6" cy="264.4" r="4.8" fill="#fff" stroke="#111" stroke-width="3.6"/>
<circle cx="1734.2" cy="261" r="4.8" fill="#fff" stroke="#111" stroke-width="3.6"/>
<rect x="1458.5" y="22.5" width="21" height="20.5" fill="#111"/>
<text x="1482.5" y="41" font-size="25.5" font-weight="bold">DMSO</text>
<rect x="1458.5" y="52" width="21" height="20.5" fill="#F48221"/>
<text x="1482.5" y="70" font-size="25.5" font-weight="bold">YM</text>
<text x="1487.5" y="471" font-size="24.5" font-style="italic" text-anchor="middle">ND1</text>
<text x="1592" y="471" font-size="24.5" font-style="italic" text-anchor="middle">ND4</text>
<text x="1707" y="471" font-size="24.5" font-style="italic" text-anchor="middle">ND4L</text>
<text x="1355" y="257" font-size="25.3" font-weight="bold" text-anchor="middle" transform="rotate(-90 1355 257)">gDNA expression</text>
<text x="1870" y="22.2" font-size="27" font-weight="bold">d</text>
<rect x="1977.4" y="191.2" width="30.6" height="250.8" fill="#111"/>
<rect x="2014.8" y="201.23" width="31" height="240.77" fill="#F7861C"/>
<line x1="1960" y1="64.05" x2="1960" y2="443.75" stroke="#111" stroke-width="3.5"/>
<line x1="1950" y1="442" x2="2062" y2="442" stroke="#111" stroke-width="3.5"/>
<line x1="1948" y1="442" x2="1960" y2="442" stroke="#111" stroke-width="3.5"/>
<text x="1945.5" y="453.99" font-size="33.5" font-weight="bold" text-anchor="end">0.0</text>
<line x1="1948" y1="316.6" x2="1960" y2="316.6" stroke="#111" stroke-width="3.5"/>
<text x="1945.5" y="328.59" font-size="33.5" font-weight="bold" text-anchor="end">0.5</text>
<line x1="1948" y1="191.2" x2="1960" y2="191.2" stroke="#111" stroke-width="3.5"/>
<text x="1945.5" y="203.19" font-size="33.5" font-weight="bold" text-anchor="end">1.0</text>
<line x1="1948" y1="65.8" x2="1960" y2="65.8" stroke="#111" stroke-width="3.5"/>
<text x="1945.5" y="77.79" font-size="33.5" font-weight="bold" text-anchor="end">1.5</text>
<circle cx="1992.9" cy="135.4" r="4.8" fill="#fff" stroke="#111" stroke-width="3.6"/>
<circle cx="1992.9" cy="169" r="4.8" fill="#fff" stroke="#111" stroke-width="3.6"/>
<circle cx="1992.9" cy="180.1" r="4.8" fill="#fff" stroke="#111" stroke-width="3.6"/>
<circle cx="1992.9" cy="203" r="4.8" fill="#fff" stroke="#111" stroke-width="3.6"/>
<circle cx="1981.3" cy="233" r="4.8" fill="#fff" stroke="#111" stroke-width="3.6"/>
<circle cx="2004.5" cy="227.8" r="4.8" fill="#fff" stroke="#111" stroke-width="3.6"/>
<circle cx="2030.3" cy="166.4" r="4.8" fill="#fff" stroke="#111" stroke-width="3.6"/>
<circle cx="2019.5" cy="200" r="4.8" fill="#fff" stroke="#111" stroke-width="3.6"/>
<circle cx="2030.3" cy="197.4" r="4.8" fill="#fff" stroke="#111" stroke-width="3.6"/>
<circle cx="2041.4" cy="204.6" r="4.8" fill="#fff" stroke="#111" stroke-width="3.6"/>
<circle cx="2035.5" cy="218" r="4.8" fill="#fff" stroke="#111" stroke-width="3.6"/>
<circle cx="2024.6" cy="225" r="4.8" fill="#fff" stroke="#111" stroke-width="3.6"/>
<rect x="1977.4" y="22.7" width="20.6" height="19.5" fill="#111"/>
<text x="2001.4" y="41.5" font-size="25.5" font-weight="bold">DMSO</text>
<rect x="1977.4" y="51" width="20.6" height="20" fill="#F48221"/>
<text x="2001.4" y="70" font-size="25.5" font-weight="bold">YM</text>
<text x="1884" y="255" font-size="25.3" font-weight="bold" text-anchor="middle" transform="rotate(-90 1884 255)"><tspan font-style="italic">DRP1</tspan> expression</text>
<text x="6" y="559" font-size="27" font-weight="bold">e</text>
<defs><filter id="bl" x="-30%" y="-80%" width="160%" height="260%"><feGaussianBlur stdDeviation="2.2"/></filter><filter id="bl2" x="-30%" y="-80%" width="160%" height="260%"><feGaussianBlur stdDeviation="4"/></filter></defs>
<text x="107.2" y="660" font-size="23" font-weight="bold">DMSO</text>
<text x="188.6" y="660" font-size="23" font-weight="bold" textLength="31.3" lengthAdjust="spacingAndGlyphs">YM</text>
<rect x="104.9" y="664.3" width="129.7" height="54.4" fill="#f7f7f7" stroke="#333" stroke-width="1.6"/>
<rect x="104.9" y="736.1" width="129.7" height="54.1" fill="#e6e6e6" stroke="#333" stroke-width="1.6"/>
<rect x="106.7" y="809.4" width="129.9" height="54" fill="#e4e4e4" stroke="#333" stroke-width="1.6"/>
<rect x="106.7" y="882.6" width="129.9" height="54.1" fill="#fafafa" stroke="#333" stroke-width="1.6"/>
<rect x="127" y="679" width="45" height="30" rx="15" fill="#000" opacity="0.32" filter="url(#bl2)"/>
<rect x="181" y="679" width="42" height="28" rx="14" fill="#000" opacity="0.28" filter="url(#bl2)"/>
<rect x="130" y="678.5" width="40" height="8" rx="4" fill="#000" opacity="0.4" filter="url(#bl)"/>
<rect x="184" y="678.5" width="37" height="8" rx="4" fill="#000" opacity="0.36" filter="url(#bl)"/>
<rect x="135" y="699" width="33" height="10" rx="5" fill="#000" opacity="0.22" filter="url(#bl2)"/>
<rect x="186" y="699" width="32" height="8" rx="4" fill="#000" opacity="0.14" filter="url(#bl2)"/>
<rect x="131" y="687.75" width="38" height="9.5" rx="4.75" fill="#000" opacity="1" filter="url(#bl)"/>
<rect x="184" y="687.25" width="37" height="9.5" rx="4.75" fill="#000" opacity="1" filter="url(#bl)"/>
<rect x="133" y="759" width="33" height="5" rx="2.5" fill="#000" opacity="0.3" filter="url(#bl)"/>
<rect x="182" y="756.25" width="34" height="4.5" rx="2.25" fill="#000" opacity="0.55" filter="url(#bl)"/>
<rect x="130" y="765.25" width="38" height="9.5" rx="4.75" fill="#000" opacity="1" filter="url(#bl)"/>
<rect x="180" y="764.75" width="36" height="8.5" rx="4.25" fill="#000" opacity="1" filter="url(#bl)"/>
<rect x="133" y="835.45" width="33" height="6.5" rx="3.25" fill="#000" opacity="0.95" filter="url(#bl)"/>
<rect x="178" y="836.95" width="32" height="5.5" rx="2.75" fill="#000" opacity="0.85" filter="url(#bl)"/>
<rect x="129" y="905.6" width="37" height="10" rx="5" fill="#000" opacity="1" filter="url(#bl)"/>
<rect x="174.5" y="905.6" width="37.3" height="10" rx="5" fill="#000" opacity="1" filter="url(#bl)"/>
<text x="94.5" y="699.7" font-size="24.7" font-weight="bold" text-anchor="end" textLength="67.5" lengthAdjust="spacingAndGlyphs">DRP1</text>
<text x="94.5" y="770.6" font-size="24.7" font-weight="bold" text-anchor="end" textLength="59.5" lengthAdjust="spacingAndGlyphs">p616</text>
<text x="94.5" y="844.3" font-size="24.7" font-weight="bold" text-anchor="end" textLength="57.6" lengthAdjust="spacingAndGlyphs">p637</text>
<text x="94.5" y="920.8" font-size="24.7" font-weight="bold" text-anchor="end" textLength="93" lengthAdjust="spacingAndGlyphs">GAPDH</text>
<line x1="218.7" y1="709" x2="247.2" y2="709" stroke="#111" stroke-width="2.8"/>
<text x="252.8" y="716.9" font-size="24.5" textLength="74.7" lengthAdjust="spacingAndGlyphs">70KDa</text>
<line x1="218.7" y1="781.3" x2="247.2" y2="781.3" stroke="#111" stroke-width="2.8"/>
<text x="252.8" y="789.3" font-size="24.5" textLength="74.7" lengthAdjust="spacingAndGlyphs">70KDa</text>
<line x1="218.7" y1="853.1" x2="247.2" y2="853.1" stroke="#111" stroke-width="2.8"/>
<text x="252.8" y="860.2" font-size="24.5" textLength="74.7" lengthAdjust="spacingAndGlyphs">70KDa</text>
<line x1="218.7" y1="929.6" x2="247.2" y2="929.6" stroke="#111" stroke-width="2.8"/>
<text x="252.8" y="937.6" font-size="24.5" textLength="74.7" lengthAdjust="spacingAndGlyphs">30KDa</text>
<text x="372" y="558.5" font-size="27" font-weight="bold">f</text>
<rect x="485.3" y="735.1" width="35.2" height="249.6" fill="#141616"/>
<rect x="530.1" y="957.2" width="31.5" height="27.5" fill="url(#hA)" stroke="#111" stroke-width="3.4"/>
<line x1="466.3" y1="608.55" x2="466.3" y2="986.45" stroke="#111" stroke-width="3.5"/>
<line x1="454.2" y1="984.7" x2="582.3" y2="984.7" stroke="#111" stroke-width="3.5"/>
<line x1="454.3" y1="984.7" x2="466.3" y2="984.7" stroke="#111" stroke-width="3.5"/>
<text x="451.8" y="996.69" font-size="33.5" font-weight="bold" text-anchor="end">0.0</text>
<line x1="454.3" y1="859.9" x2="466.3" y2="859.9" stroke="#111" stroke-width="3.5"/>
<text x="451.8" y="871.89" font-size="33.5" font-weight="bold" text-anchor="end">0.5</text>
<line x1="454.3" y1="735.1" x2="466.3" y2="735.1" stroke="#111" stroke-width="3.5"/>
<text x="451.8" y="747.09" font-size="33.5" font-weight="bold" text-anchor="end">1.0</text>
<line x1="454.3" y1="610.3" x2="466.3" y2="610.3" stroke="#111" stroke-width="3.5"/>
<text x="451.8" y="622.29" font-size="33.5" font-weight="bold" text-anchor="end">1.5</text>
<circle cx="502.4" cy="702.7" r="4.6" fill="#fff" stroke="#111" stroke-width="3.2"/>
<circle cx="502.4" cy="724.1" r="4.6" fill="#fff" stroke="#111" stroke-width="3.2"/>
<circle cx="502.4" cy="736.2" r="4.6" fill="#fff" stroke="#111" stroke-width="3.2"/>
<circle cx="502.4" cy="777.8" r="4.6" fill="#fff" stroke="#111" stroke-width="3.2"/>
<circle cx="533.1" cy="950.9" r="4.6" fill="#fff" stroke="#111" stroke-width="3.2"/>
<circle cx="533.1" cy="964.7" r="4.6" fill="#fff" stroke="#111" stroke-width="3.2"/>
<circle cx="559.5" cy="941.9" r="4.6" fill="#fff" stroke="#111" stroke-width="3.2"/>
<circle cx="559.5" cy="961.9" r="4.6" fill="#fff" stroke="#111" stroke-width="3.2"/>
<rect x="483.4" y="560.7" width="20.4" height="20.7" fill="#111"/>
<text x="510.5" y="580" font-size="25.5" font-weight="bold">siCO</text>
<rect x="482.7" y="588.5" width="22" height="21.4" fill="url(#hL)"/>
<text x="510.5" y="605.5" font-size="25.5" font-weight="bold">siDRP1</text>
<line x1="502" y1="692" x2="547" y2="692" stroke="#111" stroke-width="2.6"/>
<text x="484.1" y="685.5" font-size="21.3">p&lt;0.0001</text>
<text x="386.4" y="795.5" font-size="25.3" font-weight="bold" text-anchor="middle" transform="rotate(-90 386.4 795.5)"><tspan font-style="italic">DRP1</tspan> expression</text>
<text x="627" y="557" font-size="27" font-weight="bold">g</text>
<rect x="738.4" y="735.6" width="32.2" height="248.8" fill="#141616"/>
<rect x="780.1" y="959.23" width="28.1" height="25.17" fill="url(#hA)" stroke="#111" stroke-width="3.4"/>
<rect x="819.9" y="968.68" width="28.1" height="15.72" fill="url(#hB)" stroke="#111" stroke-width="3.4"/>
<line x1="721.9" y1="609.45" x2="721.9" y2="986.15" stroke="#111" stroke-width="3.5"/>
<line x1="709.9" y1="984.4" x2="866.7" y2="984.4" stroke="#111" stroke-width="3.5"/>
<line x1="709.9" y1="984.4" x2="721.9" y2="984.4" stroke="#111" stroke-width="3.5"/>
<text x="707.4" y="996.39" font-size="33.5" font-weight="bold" text-anchor="end">0.0</text>
<line x1="709.9" y1="860" x2="721.9" y2="860" stroke="#111" stroke-width="3.5"/>
<text x="707.4" y="871.99" font-size="33.5" font-weight="bold" text-anchor="end">0.5</text>
<line x1="709.9" y1="735.6" x2="721.9" y2="735.6" stroke="#111" stroke-width="3.5"/>
<text x="707.4" y="747.59" font-size="33.5" font-weight="bold" text-anchor="end">1.0</text>
<line x1="709.9" y1="611.2" x2="721.9" y2="611.2" stroke="#111" stroke-width="3.5"/>
<text x="707.4" y="623.19" font-size="33.5" font-weight="bold" text-anchor="end">1.5</text>
<circle cx="754.5" cy="683.2" r="4.6" fill="#fff" stroke="#111" stroke-width="3.2"/>
<circle cx="743" cy="733.9" r="4.6" fill="#fff" stroke="#111" stroke-width="3.2"/>
<circle cx="766.1" cy="735" r="4.6" fill="#fff" stroke="#111" stroke-width="3.2"/>
<circle cx="754.5" cy="788.3" r="4.6" fill="#fff" stroke="#111" stroke-width="3.2"/>
<circle cx="782.3" cy="950.2" r="4.6" fill="#fff" stroke="#111" stroke-width="3.2"/>
<circle cx="805.9" cy="949.4" r="4.6" fill="#fff" stroke="#111" stroke-width="3.2"/>
<circle cx="782.3" cy="960.9" r="4.6" fill="#fff" stroke="#111" stroke-width="3.2"/>
<circle cx="805.9" cy="960.9" r="4.6" fill="#fff" stroke="#111" stroke-width="3.2"/>
<circle cx="822.1" cy="972.5" r="4.6" fill="#fff" stroke="#111" stroke-width="3.2"/>
<circle cx="830.1" cy="962.1" r="4.6" fill="#fff" stroke="#111" stroke-width="3.2"/>
<circle cx="837.7" cy="970.9" r="4.6" fill="#fff" stroke="#111" stroke-width="3.2"/>
<circle cx="845.7" cy="964.5" r="4.6" fill="#fff" stroke="#111" stroke-width="3.2"/>
<rect x="739" y="561.2" width="21" height="20.7" fill="#111"/>
<text x="765.6" y="580.6" font-size="25.5" font-weight="bold">shCO</text>
<rect x="739" y="589" width="21" height="21" fill="url(#hL)"/>
<text x="765.6" y="607.6" font-size="25.5" font-weight="bold">shDrp1a</text>
<rect x="739" y="614" width="21" height="21.5" fill="url(#hLB)"/>
<text x="765.6" y="633.1" font-size="25.5" font-weight="bold">shDrp1b</text>
<line x1="756.9" y1="697.2" x2="850" y2="697.2" stroke="#111" stroke-width="2.6"/>
<text x="894.5" y="686.1" font-size="21.3" text-anchor="end">p&lt;0.0001</text>
<line x1="758.2" y1="717" x2="803" y2="717" stroke="#111" stroke-width="2.6"/>
<text x="896.1" y="723.8" font-size="21.3" text-anchor="end">p&lt;0.0001</text>
<text x="643.9" y="795" font-size="25.3" font-weight="bold" text-anchor="middle" transform="rotate(-90 643.9 795)"><tspan font-style="italic">Drp1</tspan> expression</text>
<text x="950" y="562" font-size="27" font-weight="bold">h</text>
<text x="1019.3" y="724.6" font-size="21" font-weight="bold">siCO</text>
<text x="1076.2" y="724.6" font-size="21" font-weight="bold">siDRP1</text>
<rect x="1016.2" y="728.8" width="119.4" height="49.9" fill="#efefef" stroke="#333" stroke-width="1.6"/>
<rect x="1016.2" y="794.7" width="119.4" height="50.2" fill="#fbfbfb" stroke="#333" stroke-width="1.6"/>
<rect x="1038" y="743.5" width="33" height="6" rx="3" fill="#000" opacity="0.35" filter="url(#bl)"/>
<rect x="1037" y="753.3" width="34.7" height="7" rx="3.5" fill="#000" opacity="1" filter="url(#bl)"/>
<rect x="1032.2" y="818.7" width="37.1" height="8" rx="4" fill="#000" opacity="1" filter="url(#bl)"/>
<rect x="1078.3" y="818.95" width="35.4" height="7.5" rx="3.75" fill="#000" opacity="1" filter="url(#bl)"/>
<text x="1006.3" y="761.5" font-size="23.5" font-weight="bold" text-anchor="end">DRP1</text>
<text x="1000.6" y="828.9" font-size="24.3" font-weight="bold" text-anchor="end">GAPDH</text>
<line x1="1119.2" y1="767.8" x2="1147.8" y2="767.8" stroke="#111" stroke-width="3.2"/>
<line x1="1119.2" y1="836.7" x2="1147.8" y2="836.7" stroke="#111" stroke-width="3.2"/>
<text x="1158.2" y="777.4" font-size="24" textLength="74" lengthAdjust="spacingAndGlyphs">70KDa</text>
<text x="1158.2" y="841.9" font-size="24" textLength="74" lengthAdjust="spacingAndGlyphs">30KDa</text>
<text x="1259" y="561.5" font-size="27" font-weight="bold">i</text>
<rect x="1340.5" y="889.9" width="26.8" height="93.9" fill="#111"/>
<rect x="1373.3" y="793.18" width="26.8" height="190.62" fill="#F7861C"/>
<rect x="1440.3" y="877.51" width="23.4" height="106.29" fill="url(#hA)" stroke="#111" stroke-width="3.4"/>
<rect x="1473.1" y="778.92" width="23.4" height="204.88" fill="url(#oA)" stroke="#F7861C" stroke-width="3.4"/>
<rect x="1506.4" y="844.65" width="23.4" height="139.15" fill="url(#hB)" stroke="#111" stroke-width="3.4"/>
<rect x="1539.2" y="703.8" width="23.4" height="280" fill="url(#oB)" stroke="#F7861C" stroke-width="3.4"/>
<rect x="1604.5" y="865.31" width="23.4" height="118.49" fill="url(#hA)" stroke="#111" stroke-width="3.4"/>
<rect x="1637.3" y="793.01" width="23.4" height="190.79" fill="url(#oA)" stroke="#F7861C" stroke-width="3.4"/>
<rect x="1670.6" y="898.17" width="23.4" height="85.63" fill="url(#hB)" stroke="#111" stroke-width="3.4"/>
<rect x="1703.4" y="818.36" width="23.4" height="165.44" fill="url(#oB)" stroke="#F7861C" stroke-width="3.4"/>
<rect x="1769.5" y="894.42" width="23.4" height="89.38" fill="url(#hA)" stroke="#111" stroke-width="3.4"/>
<rect x="1801.5" y="816.48" width="23.4" height="167.32" fill="url(#oA)" stroke="#F7861C" stroke-width="3.4"/>
<rect x="1834.7" y="886.9" width="23.4" height="96.9" fill="url(#hB)" stroke="#111" stroke-width="3.4"/>
<rect x="1867.6" y="808.97" width="23.4" height="174.83" fill="url(#oB)" stroke="#F7861C" stroke-width="3.4"/>
<rect x="1932.8" y="837.14" width="23.4" height="146.66" fill="url(#hA)" stroke="#111" stroke-width="3.4"/>
<rect x="1965.7" y="750.75" width="23.4" height="233.05" fill="url(#oA)" stroke="#F7861C" stroke-width="3.4"/>
<rect x="1998.9" y="882.21" width="23.4" height="101.59" fill="url(#hB)" stroke="#111" stroke-width="3.4"/>
<rect x="2031.7" y="777.04" width="23.4" height="206.76" fill="url(#oB)" stroke="#F7861C" stroke-width="3.4"/>
<line x1="1326.3" y1="606.45" x2="1326.3" y2="985.55" stroke="#111" stroke-width="3.5"/>
<line x1="1315" y1="983.8" x2="2070" y2="983.8" stroke="#111" stroke-width="3.5"/>
<line x1="1314.3" y1="983.8" x2="1326.3" y2="983.8" stroke="#111" stroke-width="3.5"/>
<text x="1311.8" y="995.79" font-size="33.5" font-weight="bold" text-anchor="end">0</text>
<line x1="1314.3" y1="889.9" x2="1326.3" y2="889.9" stroke="#111" stroke-width="3.5"/>
<text x="1311.8" y="901.89" font-size="33.5" font-weight="bold" text-anchor="end">1</text>
<line x1="1314.3" y1="796" x2="1326.3" y2="796" stroke="#111" stroke-width="3.5"/>
<text x="1311.8" y="807.99" font-size="33.5" font-weight="bold" text-anchor="end">2</text>
<line x1="1314.3" y1="702.1" x2="1326.3" y2="702.1" stroke="#111" stroke-width="3.5"/>
<text x="1311.8" y="714.09" font-size="33.5" font-weight="bold" text-anchor="end">3</text>
<line x1="1314.3" y1="608.2" x2="1326.3" y2="608.2" stroke="#111" stroke-width="3.5"/>
<text x="1311.8" y="620.19" font-size="33.5" font-weight="bold" text-anchor="end">4</text>
<circle cx="1342.6" cy="890.1" r="4.4" fill="#fff" stroke="#111" stroke-width="3.3"/>
<circle cx="1349" cy="890.1" r="4.4" fill="#fff" stroke="#111" stroke-width="3.3"/>
<circle cx="1355.4" cy="890.1" r="4.4" fill="#fff" stroke="#111" stroke-width="3.3"/>
<circle cx="1362" cy="890.1" r="4.4" fill="#fff" stroke="#111" stroke-width="3.3"/>
<circle cx="1377.6" cy="769.5" r="4.4" fill="#fff" stroke="#111" stroke-width="3.3"/>
<circle cx="1387.4" cy="773.7" r="4.4" fill="#fff" stroke="#111" stroke-width="3.3"/>
<circle cx="1396" cy="781" r="4.4" fill="#fff" stroke="#111" stroke-width="3.3"/>
<circle cx="1377.6" cy="784.4" r="4.4" fill="#fff" stroke="#111" stroke-width="3.3"/>
<circle cx="1377.6" cy="799.3" r="4.4" fill="#fff" stroke="#111" stroke-width="3.3"/>
<circle cx="1387.4" cy="800.6" r="4.4" fill="#fff" stroke="#111" stroke-width="3.3"/>
<circle cx="1396" cy="800.6" r="4.4" fill="#fff" stroke="#111" stroke-width="3.3"/>
<circle cx="1387.4" cy="826.2" r="4.4" fill="#fff" stroke="#111" stroke-width="3.3"/>
<circle cx="1442.9" cy="874.8" r="4.4" fill="#fff" stroke="#111" stroke-width="3.3"/>
<circle cx="1450.5" cy="873.5" r="4.4" fill="#fff" stroke="#111" stroke-width="3.3"/>
<circle cx="1459.9" cy="874.8" r="4.4" fill="#fff" stroke="#111" stroke-width="3.3"/>
<circle cx="1475.7" cy="767.3" r="4.4" fill="#fff" stroke="#111" stroke-width="3.3"/>
<circle cx="1494" cy="767.3" r="4.4" fill="#fff" stroke="#111" stroke-width="3.3"/>
<circle cx="1475.7" cy="786.5" r="4.4" fill="#fff" stroke="#111" stroke-width="3.3"/>
<circle cx="1494" cy="785.2" r="4.4" fill="#fff" stroke="#111" stroke-width="3.3"/>
<circle cx="1509" cy="837.7" r="4.4" fill="#fff" stroke="#111" stroke-width="3.3"/>
<circle cx="1526.9" cy="833.4" r="4.4" fill="#fff" stroke="#111" stroke-width="3.3"/>
<circle cx="1509" cy="850.5" r="4.4" fill="#fff" stroke="#111" stroke-width="3.3"/>
<circle cx="1526.9" cy="850.5" r="4.4" fill="#fff" stroke="#111" stroke-width="3.3"/>
<circle cx="1549.5" cy="650" r="4.4" fill="#fff" stroke="#111" stroke-width="3.3"/>
<circle cx="1549.5" cy="661.6" r="4.4" fill="#fff" stroke="#111" stroke-width="3.3"/>
<circle cx="1541.8" cy="746.9" r="4.4" fill="#fff" stroke="#111" stroke-width="3.3"/>
<circle cx="1558" cy="746" r="4.4" fill="#fff" stroke="#111" stroke-width="3.3"/>
<circle cx="1605.8" cy="867.5" r="4.4" fill="#fff" stroke="#111" stroke-width="3.3"/>
<circle cx="1615.6" cy="861.2" r="4.4" fill="#fff" stroke="#111" stroke-width="3.3"/>
<circle cx="1625" cy="854.8" r="4.4" fill="#fff" stroke="#111" stroke-width="3.3"/>
<circle cx="1625" cy="864.6" r="4.4" fill="#fff" stroke="#111" stroke-width="3.3"/>
<circle cx="1639.9" cy="782.3" r="4.4" fill="#fff" stroke="#111" stroke-width="3.3"/>
<circle cx="1658.2" cy="779.3" r="4.4" fill="#fff" stroke="#111" stroke-width="3.3"/>
<circle cx="1639.9" cy="804.9" r="4.4" fill="#fff" stroke="#111" stroke-width="3.3"/>
<circle cx="1658.2" cy="802.3" r="4.4" fill="#fff" stroke="#111" stroke-width="3.3"/>
<circle cx="1673.1" cy="899.5" r="4.4" fill="#fff" stroke="#111" stroke-width="3.3"/>
<circle cx="1681.7" cy="894.4" r="4.4" fill="#fff" stroke="#111" stroke-width="3.3"/>
<circle cx="1690.2" cy="891.9" r="4.4" fill="#fff" stroke="#111" stroke-width="3.3"/>
<circle cx="1690.2" cy="899.5" r="4.4" fill="#fff" stroke="#111" stroke-width="3.3"/>
<circle cx="1706" cy="819.4" r="4.4" fill="#fff" stroke="#111" stroke-width="3.3"/>
<circle cx="1713.6" cy="814.2" r="4.4" fill="#fff" stroke="#111" stroke-width="3.3"/>
<circle cx="1723.5" cy="815.5" r="4.4" fill="#fff" stroke="#111" stroke-width="3.3"/>
<circle cx="1771.2" cy="888.9" r="4.4" fill="#fff" stroke="#111" stroke-width="3.3"/>
<circle cx="1786.1" cy="890.1" r="4.4" fill="#fff" stroke="#111" stroke-width="3.3"/>
<circle cx="1771.2" cy="897.4" r="4.4" fill="#fff" stroke="#111" stroke-width="3.3"/>
<circle cx="1779.7" cy="897.4" r="4.4" fill="#fff" stroke="#111" stroke-width="3.3"/>
<circle cx="1803.2" cy="816.4" r="4.4" fill="#fff" stroke="#111" stroke-width="3.3"/>
<circle cx="1811.7" cy="810" r="4.4" fill="#fff" stroke="#111" stroke-width="3.3"/>
<circle cx="1822.4" cy="806.6" r="4.4" fill="#fff" stroke="#111" stroke-width="3.3"/>
<circle cx="1822.4" cy="816.4" r="4.4" fill="#fff" stroke="#111" stroke-width="3.3"/>
<circle cx="1838.2" cy="877.4" r="4.4" fill="#fff" stroke="#111" stroke-width="3.3"/>
<circle cx="1853.5" cy="877.4" r="4.4" fill="#fff" stroke="#111" stroke-width="3.3"/>
<circle cx="1838.2" cy="890.1" r="4.4" fill="#fff" stroke="#111" stroke-width="3.3"/>
<circle cx="1853.5" cy="890.1" r="4.4" fill="#fff" stroke="#111" stroke-width="3.3"/>
<circle cx="1869.3" cy="796.3" r="4.4" fill="#fff" stroke="#111" stroke-width="3.3"/>
<circle cx="1869.3" cy="809.1" r="4.4" fill="#fff" stroke="#111" stroke-width="3.3"/>
<circle cx="1877.8" cy="801.5" r="4.4" fill="#fff" stroke="#111" stroke-width="3.3"/>
<circle cx="1887.6" cy="804.9" r="4.4" fill="#fff" stroke="#111" stroke-width="3.3"/>
<circle cx="1935.4" cy="836.4" r="4.4" fill="#fff" stroke="#111" stroke-width="3.3"/>
<circle cx="1943.9" cy="835.6" r="4.4" fill="#fff" stroke="#111" stroke-width="3.3"/>
<circle cx="1952.5" cy="836.4" r="4.4" fill="#fff" stroke="#111" stroke-width="3.3"/>
<circle cx="1968.2" cy="746.9" r="4.4" fill="#fff" stroke="#111" stroke-width="3.3"/>
<circle cx="1975" cy="741" r="4.4" fill="#fff" stroke="#111" stroke-width="3.3"/>
<circle cx="1982.3" cy="745.2" r="4.4" fill="#fff" stroke="#111" stroke-width="3.3"/>
<circle cx="1986.6" cy="746.9" r="4.4" fill="#fff" stroke="#111" stroke-width="3.3"/>
<circle cx="2001.5" cy="880.3" r="4.4" fill="#fff" stroke="#111" stroke-width="3.3"/>
<circle cx="2011.3" cy="880.3" r="4.4" fill="#fff" stroke="#111" stroke-width="3.3"/>
<circle cx="2020.7" cy="880.3" r="4.4" fill="#fff" stroke="#111" stroke-width="3.3"/>
<circle cx="2033.5" cy="763.9" r="4.4" fill="#fff" stroke="#111" stroke-width="3.3"/>
<circle cx="2052.7" cy="763.1" r="4.4" fill="#fff" stroke="#111" stroke-width="3.3"/>
<circle cx="2033.5" cy="787.8" r="4.4" fill="#fff" stroke="#111" stroke-width="3.3"/>
<circle cx="2052.7" cy="785.2" r="4.4" fill="#fff" stroke="#111" stroke-width="3.3"/>
<line x1="1348.5" y1="746.7" x2="1400.4" y2="746.7" stroke="#111" stroke-width="2.6"/>
<text x="1337.4" y="740" font-size="21.3">p&lt;0.0001</text>
<line x1="1444.9" y1="712.2" x2="1491.6" y2="712.2" stroke="#111" stroke-width="2.6"/>
<text x="1424.9" y="706.3" font-size="21.3">p&lt;0.0001</text>
<line x1="1512" y1="637.7" x2="1558" y2="637.7" stroke="#111" stroke-width="2.6"/>
<text x="1501.3" y="630.9" font-size="21.3">p&lt;0.0001</text>
<line x1="1607.9" y1="762.2" x2="1654" y2="762.2" stroke="#111" stroke-width="2.6"/>
<text x="1587.8" y="757" font-size="21.3">p&lt;0.0001</text>
<line x1="1679.5" y1="800.6" x2="1725.6" y2="800.6" stroke="#111" stroke-width="2.6"/>
<text x="1672.3" y="792" font-size="21.3">p&lt;0.0001</text>
<line x1="1771.2" y1="742.6" x2="1817.3" y2="742.6" stroke="#111" stroke-width="2.6"/>
<text x="1750.7" y="737.5" font-size="21.3">p&lt;0.0001</text>
<line x1="1830.9" y1="694" x2="1877" y2="694" stroke="#111" stroke-width="2.6"/>
<text x="1810.4" y="688.4" font-size="21.3">p&lt;0.0001</text>
<line x1="1935.4" y1="657.3" x2="1981.4" y2="657.3" stroke="#111" stroke-width="2.6"/>
<text x="1913.2" y="649.2" font-size="21.3">p&lt;0.0001</text>
<line x1="2005.8" y1="754.5" x2="2052.7" y2="754.5" stroke="#111" stroke-width="2.6"/>
<text x="1986.6" y="749.4" font-size="21.3">p&lt;0.0001</text>
<rect x="1342.6" y="562.2" width="21.2" height="20.5" fill="#111"/>
<text x="1368.6" y="582.2" font-size="25.5" font-weight="bold">DMSO</text>
<rect x="1470.8" y="563.7" width="21.1" height="20.5" fill="#F48221"/>
<text x="1500.4" y="582.2" font-size="25.5" font-weight="bold">YM</text>
<text x="1467.6" y="1009.5" font-size="25" font-weight="bold" font-style="italic" text-anchor="middle">a</text>
<text x="1534.5" y="1009.5" font-size="25" font-weight="bold" font-style="italic" text-anchor="middle">b</text>
<text x="1627.5" y="1009.5" font-size="25" font-weight="bold" font-style="italic" text-anchor="middle">a</text>
<text x="1694.5" y="1009.5" font-size="25" font-weight="bold" font-style="italic" text-anchor="middle">b</text>
<text x="1792.5" y="1009.5" font-size="25" font-weight="bold" font-style="italic" text-anchor="middle">a</text>
<text x="1862.9" y="1009.5" font-size="25" font-weight="bold" font-style="italic" text-anchor="middle">b</text>
<text x="1962.3" y="1009.5" font-size="25" font-weight="bold" font-style="italic" text-anchor="middle">a</text>
<text x="2030.1" y="1009.5" font-size="25" font-weight="bold" font-style="italic" text-anchor="middle">b</text>
<text x="1365" y="1041" font-size="25.7" font-style="italic" text-anchor="middle">siCO</text>
<text x="1500.4" y="1041" font-size="25.7" font-style="italic" text-anchor="middle">siFIS1</text>
<text x="1662.5" y="1041" font-size="25.7" font-style="italic" text-anchor="middle">siMFF1</text>
<text x="1834.3" y="1041" font-size="25.7" font-style="italic" text-anchor="middle">siMIEF1</text>
<text x="1996" y="1041" font-size="25.7" font-style="italic" text-anchor="middle">siMIEF2</text>
<text x="1276" y="796" font-size="25.3" font-weight="bold" text-anchor="middle" transform="rotate(-90 1276 796)">Median MitoSOX intensity</text>
<text x="5" y="1117" font-size="27" font-weight="bold">j</text>
<rect x="105.3" y="1319.48" width="30.8" height="248.22" fill="#141616"/>
<rect x="144.7" y="1557.68" width="26.6" height="10.02" fill="url(#hA)" stroke="#111" stroke-width="3.4"/>
<rect x="182.4" y="1556.93" width="25.8" height="10.77" fill="url(#hB)" stroke="#111" stroke-width="3.4"/>
<line x1="90" y1="1191.75" x2="90" y2="1569.45" stroke="#111" stroke-width="3.5"/>
<line x1="78.4" y1="1567.7" x2="226" y2="1567.7" stroke="#111" stroke-width="3.5"/>
<line x1="78" y1="1567.7" x2="90" y2="1567.7" stroke="#111" stroke-width="3.5"/>
<text x="75.5" y="1579.69" font-size="33.5" font-weight="bold" text-anchor="end">0.0</text>
<line x1="78" y1="1442.97" x2="90" y2="1442.97" stroke="#111" stroke-width="3.5"/>
<text x="75.5" y="1454.96" font-size="33.5" font-weight="bold" text-anchor="end">0.5</text>
<line x1="78" y1="1318.23" x2="90" y2="1318.23" stroke="#111" stroke-width="3.5"/>
<text x="75.5" y="1330.23" font-size="33.5" font-weight="bold" text-anchor="end">1.0</text>
<line x1="78" y1="1193.5" x2="90" y2="1193.5" stroke="#111" stroke-width="3.5"/>
<text x="75.5" y="1205.49" font-size="33.5" font-weight="bold" text-anchor="end">1.5</text>
<circle cx="109.9" cy="1304.6" r="4.4" fill="#fff" stroke="#111" stroke-width="3.3"/>
<circle cx="131.5" cy="1303.1" r="4.4" fill="#fff" stroke="#111" stroke-width="3.3"/>
<circle cx="109.9" cy="1334.1" r="4.4" fill="#fff" stroke="#111" stroke-width="3.3"/>
<circle cx="131.5" cy="1332.6" r="4.4" fill="#fff" stroke="#111" stroke-width="3.3"/>
<circle cx="158.1" cy="1532.2" r="4.4" fill="#fff" stroke="#111" stroke-width="3.3"/>
<circle cx="147.3" cy="1565.2" r="4.4" fill="#fff" stroke="#111" stroke-width="3.3"/>
<circle cx="158.1" cy="1562.9" r="4.4" fill="#fff" stroke="#111" stroke-width="3.3"/>
<circle cx="169.1" cy="1562.9" r="4.4" fill="#fff" stroke="#111" stroke-width="3.3"/>
<circle cx="183.7" cy="1556.8" r="4.4" fill="#fff" stroke="#111" stroke-width="3.3"/>
<circle cx="191.4" cy="1556" r="4.4" fill="#fff" stroke="#111" stroke-width="3.3"/>
<circle cx="198.3" cy="1556.8" r="4.4" fill="#fff" stroke="#111" stroke-width="3.3"/>
<circle cx="205.3" cy="1556" r="4.4" fill="#fff" stroke="#111" stroke-width="3.3"/>
<rect x="109.9" y="1125.4" width="21" height="20.3" fill="#111"/>
<rect x="109.9" y="1149.4" width="21" height="21.6" fill="url(#hL)"/>
<rect x="109.9" y="1173.8" width="21" height="21.8" fill="url(#hLB)"/>
<text x="137.6" y="1144.9" font-size="25.5" font-weight="bold">siCO</text>
<text x="137.6" y="1169.2" font-size="25.5" font-weight="bold">siMFF1a</text>
<text x="137.6" y="1192.7" font-size="25.5" font-weight="bold">siMFF1b</text>
<line x1="129.9" y1="1228.4" x2="242.6" y2="1228.4" stroke="#111" stroke-width="2.6"/>
<text x="128.4" y="1223.4" font-size="21.3">p&lt;0.0001</text>
<line x1="134.1" y1="1275.2" x2="186.2" y2="1275.2" stroke="#111" stroke-width="2.6"/>
<text x="127.7" y="1269.1" font-size="21.3">p&lt;0.0001</text>
<text x="21.5" y="1483" font-size="25.3" font-weight="bold" transform="rotate(-90 21.5 1483)"><tspan font-style="italic">MFF1</tspan> expression</text>
<text x="339.5" y="1122.2" font-size="27" font-weight="bold">k</text>
<rect x="458.4" y="1317.83" width="30.3" height="249.67" fill="#141616"/>
<rect x="497.8" y="1546.73" width="26.4" height="20.77" fill="url(#hA)" stroke="#111" stroke-width="3.4"/>
<rect x="535" y="1562.96" width="26.4" height="4.54" fill="url(#hB)" stroke="#111" stroke-width="3.4"/>
<line x1="442.8" y1="1191.25" x2="442.8" y2="1569.25" stroke="#111" stroke-width="3.5"/>
<line x1="430.4" y1="1567.5" x2="579.2" y2="1567.5" stroke="#111" stroke-width="3.5"/>
<line x1="430.8" y1="1567.5" x2="442.8" y2="1567.5" stroke="#111" stroke-width="3.5"/>
<text x="428.3" y="1579.49" font-size="33.5" font-weight="bold" text-anchor="end">0.0</text>
<line x1="430.8" y1="1442.67" x2="442.8" y2="1442.67" stroke="#111" stroke-width="3.5"/>
<text x="428.3" y="1454.66" font-size="33.5" font-weight="bold" text-anchor="end">0.5</text>
<line x1="430.8" y1="1317.83" x2="442.8" y2="1317.83" stroke="#111" stroke-width="3.5"/>
<text x="428.3" y="1329.83" font-size="33.5" font-weight="bold" text-anchor="end">1.0</text>
<line x1="430.8" y1="1193" x2="442.8" y2="1193" stroke="#111" stroke-width="3.5"/>
<text x="428.3" y="1204.99" font-size="33.5" font-weight="bold" text-anchor="end">1.5</text>
<circle cx="473.8" cy="1287.1" r="4.4" fill="#fff" stroke="#111" stroke-width="3.3"/>
<circle cx="473.8" cy="1304.5" r="4.4" fill="#fff" stroke="#111" stroke-width="3.3"/>
<circle cx="473.8" cy="1330.5" r="4.4" fill="#fff" stroke="#111" stroke-width="3.3"/>
<circle cx="473.8" cy="1348.6" r="4.4" fill="#fff" stroke="#111" stroke-width="3.3"/>
<circle cx="511" cy="1509" r="4.4" fill="#fff" stroke="#111" stroke-width="3.3"/>
<circle cx="511" cy="1538.8" r="4.4" fill="#fff" stroke="#111" stroke-width="3.3"/>
<circle cx="500.6" cy="1565.6" r="4.4" fill="#fff" stroke="#111" stroke-width="3.3"/>
<circle cx="521.7" cy="1565.6" r="4.4" fill="#fff" stroke="#111" stroke-width="3.3"/>
<circle cx="537.8" cy="1559.9" r="4.4" fill="#fff" stroke="#111" stroke-width="3.3"/>
<circle cx="545.7" cy="1557.4" r="4.4" fill="#fff" stroke="#111" stroke-width="3.3"/>
<circle cx="559.4" cy="1558.6" r="4.4" fill="#fff" stroke="#111" stroke-width="3.3"/>
<rect x="457" y="1125.4" width="21" height="20.3" fill="#111"/>
<rect x="457" y="1149.4" width="21" height="21.6" fill="url(#hL)"/>
<rect x="457" y="1173.8" width="21" height="21.8" fill="url(#hLB)"/>
<text x="484.7" y="1144.9" font-size="25.5" font-weight="bold">siCO</text>
<text x="484.7" y="1169.2" font-size="25.5" font-weight="bold">siFIS1a</text>
<text x="484.7" y="1192.7" font-size="25.5" font-weight="bold">siFIS1b</text>
<line x1="476.3" y1="1227.6" x2="589.1" y2="1227.6" stroke="#111" stroke-width="2.6"/>
<text x="475" y="1222.7" font-size="21.3">p&lt;0.0001</text>
<line x1="480" y1="1270.5" x2="532.1" y2="1270.5" stroke="#111" stroke-width="2.6"/>
<text x="473.3" y="1264.8" font-size="21.3">p&lt;0.0001</text>
<text x="362.2" y="1480.5" font-size="25.3" font-weight="bold" transform="rotate(-90 362.2 1480.5)"><tspan font-style="italic">FIS1</tspan> expression</text>
<text x="685.5" y="1122.5" font-size="27" font-weight="bold">l</text>
<rect x="799.3" y="1318.17" width="30.5" height="249.13" fill="#141616"/>
<rect x="838.4" y="1549.07" width="26.2" height="18.23" fill="url(#hA)" stroke="#111" stroke-width="3.4"/>
<rect x="875.7" y="1541.6" width="26.3" height="25.7" fill="url(#hB)" stroke="#111" stroke-width="3.4"/>
<line x1="782.5" y1="1191.85" x2="782.5" y2="1569.05" stroke="#111" stroke-width="3.5"/>
<line x1="773" y1="1567.3" x2="920" y2="1567.3" stroke="#111" stroke-width="3.5"/>
<line x1="770.5" y1="1567.3" x2="782.5" y2="1567.3" stroke="#111" stroke-width="3.5"/>
<text x="768" y="1579.29" font-size="33.5" font-weight="bold" text-anchor="end">0.0</text>
<line x1="770.5" y1="1442.73" x2="782.5" y2="1442.73" stroke="#111" stroke-width="3.5"/>
<text x="768" y="1454.73" font-size="33.5" font-weight="bold" text-anchor="end">0.5</text>
<line x1="770.5" y1="1318.17" x2="782.5" y2="1318.17" stroke="#111" stroke-width="3.5"/>
<text x="768" y="1330.16" font-size="33.5" font-weight="bold" text-anchor="end">1.0</text>
<line x1="770.5" y1="1193.6" x2="782.5" y2="1193.6" stroke="#111" stroke-width="3.5"/>
<text x="768" y="1205.59" font-size="33.5" font-weight="bold" text-anchor="end">1.5</text>
<circle cx="804.2" cy="1311.4" r="4.4" fill="#fff" stroke="#111" stroke-width="3.3"/>
<circle cx="825.7" cy="1302" r="4.4" fill="#fff" stroke="#111" stroke-width="3.3"/>
<circle cx="804.2" cy="1333.7" r="4.4" fill="#fff" stroke="#111" stroke-width="3.3"/>
<circle cx="825.7" cy="1324.8" r="4.4" fill="#fff" stroke="#111" stroke-width="3.3"/>
<circle cx="842.8" cy="1551" r="4.4" fill="#fff" stroke="#111" stroke-width="3.3"/>
<circle cx="850.9" cy="1547" r="4.4" fill="#fff" stroke="#111" stroke-width="3.3"/>
<circle cx="859" cy="1547" r="4.4" fill="#fff" stroke="#111" stroke-width="3.3"/>
<circle cx="863.1" cy="1549" r="4.4" fill="#fff" stroke="#111" stroke-width="3.3"/>
<circle cx="879.3" cy="1532.7" r="4.4" fill="#fff" stroke="#111" stroke-width="3.3"/>
<circle cx="900.5" cy="1528.7" r="4.4" fill="#fff" stroke="#111" stroke-width="3.3"/>
<circle cx="900.5" cy="1538.8" r="4.4" fill="#fff" stroke="#111" stroke-width="3.3"/>
<circle cx="889.5" cy="1549" r="4.4" fill="#fff" stroke="#111" stroke-width="3.3"/>
<rect x="798" y="1125.4" width="21" height="20.3" fill="#111"/>
<rect x="798" y="1149.4" width="21" height="21.6" fill="url(#hL)"/>
<rect x="798" y="1173.8" width="21" height="21.8" fill="url(#hLB)"/>
<text x="825.7" y="1144.9" font-size="25.5" font-weight="bold">siCO</text>
<text x="825.7" y="1169.2" font-size="25.5" font-weight="bold">siMIEF1a</text>
<text x="825.7" y="1192.7" font-size="25.5" font-weight="bold">siMIEF1b</text>
<line x1="820.4" y1="1226.9" x2="933" y2="1226.9" stroke="#111" stroke-width="2.6"/>
<text x="817.6" y="1222" font-size="21.3">p&lt;0.0001</text>
<line x1="824.5" y1="1268.7" x2="875.3" y2="1268.7" stroke="#111" stroke-width="2.6"/>
<text x="816.8" y="1263.8" font-size="21.3">p&lt;0.0001</text>
<text x="704.2" y="1482" font-size="25.3" font-weight="bold" transform="rotate(-90 704.2 1482)"><tspan font-style="italic">MIEF1</tspan> expression</text>
<text x="1013" y="1122.5" font-size="27" font-weight="bold">m</text>
<rect x="1136.4" y="1318.17" width="30.5" height="249.13" fill="#141616"/>
<rect x="1175.5" y="1544.09" width="26.3" height="23.21" fill="url(#hA)" stroke="#111" stroke-width="3.4"/>
<rect x="1212.9" y="1514.19" width="27" height="53.11" fill="url(#hB)" stroke="#111" stroke-width="3.4"/>
<line x1="1108.8" y1="1191.85" x2="1108.8" y2="1569.05" stroke="#111" stroke-width="3.5"/>
<line x1="1096.8" y1="1567.3" x2="1257" y2="1567.3" stroke="#111" stroke-width="3.5"/>
<line x1="1096.8" y1="1567.3" x2="1108.8" y2="1567.3" stroke="#111" stroke-width="3.5"/>
<text x="1094.3" y="1579.29" font-size="33.5" font-weight="bold" text-anchor="end">0.0</text>
<line x1="1096.8" y1="1442.73" x2="1108.8" y2="1442.73" stroke="#111" stroke-width="3.5"/>
<text x="1094.3" y="1454.73" font-size="33.5" font-weight="bold" text-anchor="end">0.5</text>
<line x1="1096.8" y1="1318.17" x2="1108.8" y2="1318.17" stroke="#111" stroke-width="3.5"/>
<text x="1094.3" y="1330.16" font-size="33.5" font-weight="bold" text-anchor="end">1.0</text>
<line x1="1096.8" y1="1193.6" x2="1108.8" y2="1193.6" stroke="#111" stroke-width="3.5"/>
<text x="1094.3" y="1205.59" font-size="33.5" font-weight="bold" text-anchor="end">1.5</text>
<circle cx="1152.3" cy="1242.3" r="4.4" fill="#fff" stroke="#111" stroke-width="3.3"/>
<circle cx="1152.3" cy="1311.4" r="4.4" fill="#fff" stroke="#111" stroke-width="3.3"/>
<circle cx="1152.3" cy="1324.8" r="4.4" fill="#fff" stroke="#111" stroke-width="3.3"/>
<circle cx="1152.3" cy="1394.6" r="4.4" fill="#fff" stroke="#111" stroke-width="3.3"/>
<circle cx="1179.1" cy="1544.1" r="4.4" fill="#fff" stroke="#111" stroke-width="3.3"/>
<circle cx="1188.8" cy="1538.8" r="4.4" fill="#fff" stroke="#111" stroke-width="3.3"/>
<circle cx="1199.4" cy="1532.7" r="4.4" fill="#fff" stroke="#111" stroke-width="3.3"/>
<circle cx="1199.4" cy="1542.9" r="4.4" fill="#fff" stroke="#111" stroke-width="3.3"/>
<circle cx="1215.6" cy="1494.1" r="4.4" fill="#fff" stroke="#111" stroke-width="3.3"/>
<circle cx="1236.8" cy="1488.9" r="4.4" fill="#fff" stroke="#111" stroke-width="3.3"/>
<circle cx="1237.6" cy="1526.6" r="4.4" fill="#fff" stroke="#111" stroke-width="3.3"/>
<circle cx="1215.6" cy="1532.7" r="4.4" fill="#fff" stroke="#111" stroke-width="3.3"/>
<rect x="1136" y="1125.4" width="21" height="20.3" fill="#111"/>
<rect x="1136" y="1149.4" width="21" height="21.6" fill="url(#hL)"/>
<rect x="1136" y="1173.8" width="21" height="21.8" fill="url(#hLB)"/>
<text x="1163.7" y="1144.9" font-size="25.5" font-weight="bold">siCO</text>
<text x="1163.7" y="1169.2" font-size="25.5" font-weight="bold">siMIEF2a</text>
<text x="1163.7" y="1192.7" font-size="25.5" font-weight="bold">siMIEF2b</text>
<line x1="1153.5" y1="1228" x2="1265" y2="1228" stroke="#111" stroke-width="2.6"/>
<text x="1150.6" y="1223" font-size="21.3">p&lt;0.0001</text>
<line x1="1156.3" y1="1283" x2="1208.3" y2="1283" stroke="#111" stroke-width="2.6"/>
<text x="1149.4" y="1278.9" font-size="21.3">p&lt;0.0001</text>
<text x="1039.5" y="1482" font-size="25.3" font-weight="bold" transform="rotate(-90 1039.5 1482)"><tspan font-style="italic">MIEF2</tspan> expression</text>
<text x="1427.5" y="1121.4" font-size="27" font-weight="bold">n</text>
<line x1="1663.55" y1="1222" x2="1663.55" y2="1566.2" stroke="#111" stroke-width="3.6" stroke-dasharray="17 18.5"/>
<line x1="1753.44" y1="1222" x2="1753.44" y2="1566.2" stroke="#111" stroke-width="3.6" stroke-dasharray="17 18.5"/>
<line x1="1900.96" y1="1222" x2="1900.96" y2="1566.2" stroke="#111" stroke-width="3.6" stroke-dasharray="17 18.5"/>
<text x="1656.2" y="1205.7" font-size="23" text-anchor="middle" textLength="69.8" lengthAdjust="spacingAndGlyphs">OLIGO</text>
<text x="1760.1" y="1205.7" font-size="23" text-anchor="middle" textLength="54.2" lengthAdjust="spacingAndGlyphs">FCCP</text>
<text x="1899.1" y="1205.7" font-size="23" text-anchor="middle" textLength="122.2" lengthAdjust="spacingAndGlyphs">ROT/ANTI A</text>
<path d="M1546.8,1485.51 L1576.11,1491.02 L1605.42,1487.26 L1634.73,1487.01 L1664.04,1516.08 L1693.35,1514.83 L1722.66,1512.32 L1751.97,1512.57 L1781.28,1478.24 L1810.59,1475.98 L1839.9,1474.73 L1869.21,1477.24 L1898.52,1503.55 L1927.83,1503.05 L1957.14,1502.3 L1986.45,1504.8 L1986.45,1509.06 L1957.14,1508.06 L1927.83,1508.56 L1898.52,1509.82 L1869.21,1498.54 L1839.9,1502.3 L1810.59,1503.55 L1781.28,1504.8 L1751.97,1526.1 L1722.66,1526.1 L1693.35,1527.36 L1664.04,1528.61 L1634.73,1493.53 L1605.42,1493.53 L1576.11,1498.04 L1546.8,1491.02 Z" fill="#7CC49A" fill-opacity="0.85" stroke="#14935C" stroke-width="2" stroke-linejoin="miter"/>
<path d="M1546.8,1486.51 L1576.11,1491.02 L1605.42,1488.51 L1634.73,1488.51 L1664.04,1523.6 L1693.35,1523.6 L1722.66,1523.1 L1751.97,1522.35 L1781.28,1493.53 L1810.59,1491.02 L1839.9,1491.02 L1869.21,1491.02 L1898.52,1538.63 L1927.83,1539.14 L1957.14,1541.14 L1986.45,1543.65 L1986.45,1551.16 L1957.14,1549.66 L1927.83,1548.66 L1898.52,1548.66 L1869.21,1503.55 L1839.9,1508.06 L1810.59,1508.06 L1781.28,1511.07 L1751.97,1536.63 L1722.66,1536.63 L1693.35,1536.63 L1664.04,1536.13 L1634.73,1496.03 L1605.42,1496.03 L1576.11,1500.54 L1546.8,1494.78 Z" fill="#7CC49A" fill-opacity="0.85" stroke="#14935C" stroke-width="2" stroke-linejoin="miter"/>
<path d="M1546.8,1490.27 L1576.11,1495.78 L1605.42,1491.77 L1634.73,1491.77 L1664.04,1533.62 L1693.35,1533.12 L1722.66,1532.62 L1751.97,1532.37 L1781.28,1504.8 L1810.59,1503.05 L1839.9,1502.3 L1869.21,1497.29 L1898.52,1544.9 L1927.83,1544.9 L1957.14,1546.65 L1986.45,1548.16" fill="none" stroke="#14935C" stroke-width="5" stroke-linejoin="round" stroke-linecap="butt" stroke-opacity="1"/>
<path d="M1546.8,1483.5 L1576.11,1486.51 L1605.42,1483.5 L1634.73,1483.5 L1664.04,1519.09 L1693.35,1518.08 L1722.66,1512.32 L1751.97,1513.07 L1781.28,1487.76 L1810.59,1486.01 L1839.9,1481.75 L1869.21,1483.5 L1898.52,1505.3 L1927.83,1504.55 L1957.14,1503.55 L1986.45,1506.06" fill="none" stroke="#14935C" stroke-width="5" stroke-linejoin="round" stroke-linecap="butt" stroke-opacity="1"/>
<circle cx="1546.8" cy="1483.5" r="3.4" fill="#3aa872"/>
<circle cx="1561.22" cy="1484.98" r="3.4" fill="#3aa872"/>
<circle cx="1575.65" cy="1486.46" r="3.4" fill="#3aa872"/>
<circle cx="1590.07" cy="1485.08" r="3.4" fill="#3aa872"/>
<circle cx="1604.5" cy="1483.6" r="3.4" fill="#3aa872"/>
<circle cx="1618.99" cy="1483.5" r="3.4" fill="#3aa872"/>
<circle cx="1633.49" cy="1483.5" r="3.4" fill="#3aa872"/>
<circle cx="1643.16" cy="1493.74" r="3.4" fill="#3aa872"/>
<circle cx="1652.38" cy="1504.93" r="3.4" fill="#3aa872"/>
<circle cx="1661.6" cy="1516.12" r="3.4" fill="#3aa872"/>
<circle cx="1674.69" cy="1518.72" r="3.4" fill="#3aa872"/>
<circle cx="1689.19" cy="1518.23" r="3.4" fill="#3aa872"/>
<circle cx="1703.49" cy="1516.09" r="3.4" fill="#3aa872"/>
<circle cx="1717.72" cy="1513.29" r="3.4" fill="#3aa872"/>
<circle cx="1732.12" cy="1512.56" r="3.4" fill="#3aa872"/>
<circle cx="1746.61" cy="1512.94" r="3.4" fill="#3aa872"/>
<circle cx="1758.89" cy="1507.1" r="3.4" fill="#3aa872"/>
<circle cx="1769.86" cy="1497.62" r="3.4" fill="#3aa872"/>
<circle cx="1780.84" cy="1488.14" r="3.4" fill="#3aa872"/>
<circle cx="1795.17" cy="1486.93" r="3.4" fill="#3aa872"/>
<circle cx="1809.65" cy="1486.06" r="3.4" fill="#3aa872"/>
<circle cx="1824" cy="1484.06" r="3.4" fill="#3aa872"/>
<circle cx="1838.35" cy="1481.97" r="3.4" fill="#3aa872"/>
<circle cx="1852.81" cy="1482.52" r="3.4" fill="#3aa872"/>
<circle cx="1867.29" cy="1483.39" r="3.4" fill="#3aa872"/>
<circle cx="1879.3" cy="1491.01" r="3.4" fill="#3aa872"/>
<circle cx="1890.93" cy="1499.66" r="3.4" fill="#3aa872"/>
<circle cx="1903.56" cy="1505.17" r="3.4" fill="#3aa872"/>
<circle cx="1918.06" cy="1504.8" r="3.4" fill="#3aa872"/>
<circle cx="1932.55" cy="1504.39" r="3.4" fill="#3aa872"/>
<circle cx="1947.04" cy="1503.9" r="3.4" fill="#3aa872"/>
<circle cx="1961.52" cy="1503.92" r="3.4" fill="#3aa872"/>
<circle cx="1975.97" cy="1505.16" r="3.4" fill="#3aa872"/>
<path d="M1546.8,1467.21 L1576.11,1467.21 L1605.42,1467.21 L1634.73,1467.21 L1664.04,1529.11 L1693.35,1528.61 L1722.66,1528.11 L1751.97,1527.36 L1781.28,1285.78 L1810.59,1300.56 L1839.9,1309.34 L1869.21,1314.35 L1898.52,1436.39 L1927.83,1441.9 L1957.14,1448.92 L1986.45,1455.69 L1986.45,1477.99 L1957.14,1468.22 L1927.83,1462.7 L1898.52,1457.44 L1869.21,1321.11 L1839.9,1318.11 L1810.59,1310.59 L1781.28,1296.55 L1751.97,1534.88 L1722.66,1535.63 L1693.35,1536.13 L1664.04,1536.63 L1634.73,1472.98 L1605.42,1472.98 L1576.11,1473.48 L1546.8,1474.73 Z" fill="#A3A3AB" fill-opacity="1" stroke="#111" stroke-width="2.2" stroke-linejoin="miter"/>
<path d="M1546.8,1470.97 L1576.11,1470.47 L1605.42,1469.97 L1634.73,1469.97 L1664.04,1532.87 L1693.35,1532.37 L1722.66,1531.87 L1751.97,1531.12 L1781.28,1294.05 L1810.59,1303.07 L1839.9,1314.1 L1869.21,1317.6 L1898.52,1446.41 L1927.83,1452.18 L1957.14,1457.94 L1986.45,1464.21" fill="none" stroke="#111" stroke-width="3" stroke-linejoin="round" stroke-linecap="butt" stroke-opacity="1"/>
<path d="M1546.8,1470.97 L1576.11,1470.47 L1605.42,1469.97 L1634.73,1469.97" fill="none" stroke="#fff" stroke-width="2" stroke-linejoin="round" stroke-linecap="butt" stroke-opacity="1" stroke-dasharray="7 6"/>
<circle cx="1546.8" cy="1470.97" r="3.4" fill="#111"/>
<circle cx="1557.8" cy="1470.78" r="3.4" fill="#111"/>
<circle cx="1568.8" cy="1470.6" r="3.4" fill="#111"/>
<circle cx="1579.8" cy="1470.41" r="3.4" fill="#111"/>
<circle cx="1590.79" cy="1470.22" r="3.4" fill="#111"/>
<circle cx="1601.79" cy="1470.03" r="3.4" fill="#111"/>
<circle cx="1612.79" cy="1469.97" r="3.4" fill="#111"/>
<circle cx="1623.79" cy="1469.97" r="3.4" fill="#111"/>
<circle cx="1634.76" cy="1470.03" r="3.4" fill="#111"/>
<circle cx="1639.4" cy="1480" r="3.4" fill="#111"/>
<circle cx="1644.05" cy="1489.97" r="3.4" fill="#111"/>
<circle cx="1648.69" cy="1499.94" r="3.4" fill="#111"/>
<circle cx="1653.34" cy="1509.91" r="3.4" fill="#111"/>
<circle cx="1657.99" cy="1519.88" r="3.4" fill="#111"/>
<circle cx="1662.63" cy="1529.85" r="3.4" fill="#111"/>
<circle cx="1671.71" cy="1532.74" r="3.4" fill="#111"/>
<circle cx="1682.7" cy="1532.55" r="3.4" fill="#111"/>
<circle cx="1693.7" cy="1532.36" r="3.4" fill="#111"/>
<circle cx="1704.7" cy="1532.17" r="3.4" fill="#111"/>
<circle cx="1715.7" cy="1531.99" r="3.4" fill="#111"/>
<circle cx="1726.7" cy="1531.76" r="3.4" fill="#111"/>
<circle cx="1737.69" cy="1531.48" r="3.4" fill="#111"/>
<circle cx="1748.69" cy="1531.2" r="3.4" fill="#111"/>
<circle cx="1752.92" cy="1523.46" r="3.4" fill="#111"/>
<circle cx="1754.27" cy="1512.54" r="3.4" fill="#111"/>
<circle cx="1755.62" cy="1501.62" r="3.4" fill="#111"/>
<circle cx="1756.97" cy="1490.7" r="3.4" fill="#111"/>
<circle cx="1758.32" cy="1479.79" r="3.4" fill="#111"/>
<circle cx="1759.67" cy="1468.87" r="3.4" fill="#111"/>
<circle cx="1761.02" cy="1457.95" r="3.4" fill="#111"/>
<circle cx="1762.37" cy="1447.04" r="3.4" fill="#111"/>
<circle cx="1763.71" cy="1436.12" r="3.4" fill="#111"/>
<circle cx="1765.06" cy="1425.2" r="3.4" fill="#111"/>
<circle cx="1766.41" cy="1414.29" r="3.4" fill="#111"/>
<circle cx="1767.76" cy="1403.37" r="3.4" fill="#111"/>
<circle cx="1769.11" cy="1392.45" r="3.4" fill="#111"/>
<circle cx="1770.46" cy="1381.54" r="3.4" fill="#111"/>
<circle cx="1771.81" cy="1370.62" r="3.4" fill="#111"/>
<circle cx="1773.16" cy="1359.7" r="3.4" fill="#111"/>
<circle cx="1774.51" cy="1348.79" r="3.4" fill="#111"/>
<circle cx="1775.86" cy="1337.87" r="3.4" fill="#111"/>
<circle cx="1777.21" cy="1326.95" r="3.4" fill="#111"/>
<circle cx="1778.56" cy="1316.03" r="3.4" fill="#111"/>
<circle cx="1779.91" cy="1305.12" r="3.4" fill="#111"/>
<circle cx="1781.26" cy="1294.2" r="3.4" fill="#111"/>
<circle cx="1791.65" cy="1297.24" r="3.4" fill="#111"/>
<circle cx="1802.16" cy="1300.48" r="3.4" fill="#111"/>
<circle cx="1812.63" cy="1303.84" r="3.4" fill="#111"/>
<circle cx="1822.93" cy="1307.71" r="3.4" fill="#111"/>
<circle cx="1833.22" cy="1311.58" r="3.4" fill="#111"/>
<circle cx="1843.74" cy="1314.56" r="3.4" fill="#111"/>
<circle cx="1854.66" cy="1315.86" r="3.4" fill="#111"/>
<circle cx="1865.58" cy="1317.17" r="3.4" fill="#111"/>
<circle cx="1870.84" cy="1324.77" r="3.4" fill="#111"/>
<circle cx="1873.28" cy="1335.49" r="3.4" fill="#111"/>
<circle cx="1875.72" cy="1346.22" r="3.4" fill="#111"/>
<circle cx="1878.16" cy="1356.94" r="3.4" fill="#111"/>
<circle cx="1880.6" cy="1367.67" r="3.4" fill="#111"/>
<circle cx="1883.04" cy="1378.4" r="3.4" fill="#111"/>
<circle cx="1885.48" cy="1389.12" r="3.4" fill="#111"/>
<circle cx="1887.92" cy="1399.85" r="3.4" fill="#111"/>
<circle cx="1890.36" cy="1410.57" r="3.4" fill="#111"/>
<circle cx="1892.81" cy="1421.3" r="3.4" fill="#111"/>
<circle cx="1895.25" cy="1432.02" r="3.4" fill="#111"/>
<circle cx="1897.69" cy="1442.75" r="3.4" fill="#111"/>
<circle cx="1905.63" cy="1447.81" r="3.4" fill="#111"/>
<circle cx="1916.42" cy="1449.93" r="3.4" fill="#111"/>
<circle cx="1927.21" cy="1452.06" r="3.4" fill="#111"/>
<circle cx="1938.01" cy="1454.18" r="3.4" fill="#111"/>
<circle cx="1948.8" cy="1456.3" r="3.4" fill="#111"/>
<circle cx="1959.59" cy="1458.46" r="3.4" fill="#111"/>
<circle cx="1970.34" cy="1460.76" r="3.4" fill="#111"/>
<circle cx="1981.1" cy="1463.06" r="3.4" fill="#111"/>
<path d="M1546.8,1475.98 L1576.11,1472.98 L1605.42,1472.98 L1634.73,1472.48 L1664.04,1524.1 L1693.35,1523.6 L1722.66,1523.1 L1751.97,1522.35 L1781.28,1393.29 L1810.59,1390.78 L1839.9,1395.79 L1869.21,1396.29 L1898.52,1529.86 L1927.83,1529.11 L1957.14,1531.12 L1986.45,1534.12 L1986.45,1542.39 L1957.14,1538.63 L1927.83,1536.63 L1898.52,1537.38 L1869.21,1404.56 L1839.9,1405.82 L1810.59,1400.8 L1781.28,1404.56 L1751.97,1528.61 L1722.66,1529.11 L1693.35,1529.61 L1664.04,1529.86 L1634.73,1477.24 L1605.42,1477.99 L1576.11,1477.99 L1546.8,1481 Z" fill="#111" fill-opacity="1" stroke="#111" stroke-width="1" stroke-linejoin="miter"/>
<path d="M1546.8,1478.49 L1576.11,1474.98 L1605.42,1474.98 L1634.73,1474.48 L1664.04,1527.61 L1693.35,1526.86 L1722.66,1526.1 L1751.97,1524.85 L1781.28,1399.05 L1810.59,1394.79 L1839.9,1401.05 L1869.21,1400.3 L1898.52,1532.87 L1927.83,1531.62 L1957.14,1534.37 L1986.45,1538.38" fill="none" stroke="#111" stroke-width="7" stroke-linejoin="round" stroke-linecap="butt" stroke-opacity="1"/>
<line x1="1547.5" y1="1188.5" x2="1547.5" y2="1568" stroke="#111" stroke-width="3.6"/>
<line x1="1535.5" y1="1566.2" x2="2033.4" y2="1566.2" stroke="#111" stroke-width="3.6"/>
<line x1="1535.5" y1="1566.2" x2="1547.5" y2="1566.2" stroke="#111" stroke-width="3.6"/>
<text x="1531.5" y="1578.01" font-size="33" font-weight="bold" text-anchor="end">0</text>
<line x1="1535.5" y1="1440.9" x2="1547.5" y2="1440.9" stroke="#111" stroke-width="3.6"/>
<text x="1531.5" y="1452.71" font-size="33" font-weight="bold" text-anchor="end">500</text>
<line x1="1535.5" y1="1315.6" x2="1547.5" y2="1315.6" stroke="#111" stroke-width="3.6"/>
<text x="1531.5" y="1327.41" font-size="33" font-weight="bold" text-anchor="end">1000</text>
<line x1="1535.5" y1="1190.3" x2="1547.5" y2="1190.3" stroke="#111" stroke-width="3.6"/>
<text x="1531.5" y="1202.11" font-size="33" font-weight="bold" text-anchor="end">1500</text>
<text x="1546.8" y="1601.2" font-size="33" font-weight="bold" text-anchor="middle">0</text>
<text x="1644.5" y="1601.2" font-size="33" font-weight="bold" text-anchor="middle">20</text>
<text x="1742.2" y="1601.2" font-size="33" font-weight="bold" text-anchor="middle">40</text>
<text x="1839.9" y="1601.2" font-size="33" font-weight="bold" text-anchor="middle">60</text>
<text x="1937.6" y="1601.2" font-size="33" font-weight="bold" text-anchor="middle">80</text>
<text x="2035.3" y="1601.2" font-size="33" font-weight="bold" text-anchor="middle">100</text>
<line x1="1549.5" y1="1131.6" x2="1597.5" y2="1131.6" stroke="#111" stroke-width="8.8" stroke-linecap="round"/>
<line x1="1705.9" y1="1131.6" x2="1711.9" y2="1131.6" stroke="#111" stroke-width="8.8" stroke-linecap="round"/>
<line x1="1721.5" y1="1131.6" x2="1727.5" y2="1131.6" stroke="#111" stroke-width="8.8" stroke-linecap="round"/>
<line x1="1737.1" y1="1131.6" x2="1743.1" y2="1131.6" stroke="#111" stroke-width="8.8" stroke-linecap="round"/>
<text x="1619.2" y="1142.6" font-size="24.8" font-weight="bold">siCO</text>
<text x="1770.1" y="1142.6" font-size="24.8" font-weight="bold">siDRP1</text>
<rect x="1932" y="1121.4" width="20.6" height="19.8" fill="#1a1a1a"/>
<rect x="1932" y="1146.1" width="20.6" height="20.3" fill="#14935C"/>
<text x="1961.4" y="1140.6" font-size="24.8" font-weight="bold">STIFF</text>
<text x="1961.4" y="1166.4" font-size="24.8" font-weight="bold">SOFT</text>
<line x1="1601" y1="1134.5" x2="1619" y2="1134.5" stroke="#999" stroke-width="1"/>
<text x="1780.8" y="1636.1" font-size="25.3" font-weight="bold" text-anchor="middle">Time (min)</text>
<text x="1794.5" y="1674.2" font-size="25.3" font-weight="bold" text-anchor="middle">MCF10A-RAS</text>
<text x="1444.5" y="1371" font-size="25.3" font-weight="bold" text-anchor="middle" transform="rotate(-90 1444.5 1371)">OCR (pmol/min/cell number)</text>
<text x="7.5" y="1718.4" font-size="27" font-weight="bold">o</text>
<line x1="235.68" y1="1843.3" x2="235.68" y2="2188.5" stroke="#111" stroke-width="3.6" stroke-dasharray="17 18.5"/>
<line x1="328.4" y1="1843.3" x2="328.4" y2="2188.5" stroke="#111" stroke-width="3.6" stroke-dasharray="17 18.5"/>
<line x1="473.82" y1="1843.3" x2="473.82" y2="2188.5" stroke="#111" stroke-width="3.6" stroke-dasharray="17 18.5"/>
<text x="219.7" y="1829.8" font-size="23" text-anchor="middle" textLength="69.8" lengthAdjust="spacingAndGlyphs">OLIGO</text>
<text x="328.5" y="1829.8" font-size="23" text-anchor="middle" textLength="54.2" lengthAdjust="spacingAndGlyphs">FCCP</text>
<text x="468.7" y="1829.8" font-size="23" text-anchor="middle" textLength="122.2" lengthAdjust="spacingAndGlyphs">ROT/ANTI A</text>
<path d="M121,2106 L150.28,2112.25 L179.56,2109 L208.84,2109 L238.12,2152.25 L267.4,2151 L296.68,2150.5 L325.96,2151 L355.24,2113 L384.52,2113.5 L413.8,2106 L443.08,2099.25 L472.36,2158.5 L501.64,2159 L530.92,2161 L560.2,2163.5 L560.2,2173.5 L530.92,2172.25 L501.64,2170.5 L472.36,2171 L443.08,2128 L413.8,2133.5 L384.52,2128.5 L355.24,2130.75 L325.96,2158 L296.68,2157.25 L267.4,2158 L238.12,2158.5 L208.84,2117.25 L179.56,2117.25 L150.28,2119.75 L121,2114.75 Z" fill="#7CC49A" fill-opacity="0.85" stroke="#14935C" stroke-width="2" stroke-linejoin="miter"/>
<path d="M121,2110.25 L150.28,2115.75 L179.56,2113 L208.84,2113 L238.12,2155.5 L267.4,2154.75 L296.68,2154.75 L325.96,2155.5 L355.24,2124 L384.52,2121.25 L413.8,2121.25 L443.08,2117.25 L472.36,2165.25 L501.64,2165.5 L530.92,2166.5 L560.2,2168" fill="none" stroke="#14935C" stroke-width="5" stroke-linejoin="round" stroke-linecap="butt" stroke-opacity="1"/>
<path d="M121,2061 L150.28,2064.75 L179.56,2059.75 L208.84,2060.5 L238.12,2095.5 L267.4,2088.5 L296.68,2088 L325.96,2088.5 L355.24,2064.75 L384.52,2066.5 L413.8,2059.75 L443.08,2058.5 L472.36,2098 L501.64,2096 L530.92,2100.5 L560.2,2102.25 L560.2,2133.5 L530.92,2126 L501.64,2118.5 L472.36,2113.5 L443.08,2066 L413.8,2067.25 L384.52,2074 L355.24,2073 L325.96,2094 L296.68,2094 L267.4,2094 L238.12,2102.25 L208.84,2067.25 L179.56,2067.25 L150.28,2071 L121,2068.5 Z" fill="#7CC49A" fill-opacity="0.85" stroke="#14935C" stroke-width="2" stroke-linejoin="miter"/>
<path d="M121,2065 L150.28,2067.75 L179.56,2063.75 L208.84,2063.75 L238.12,2099.25 L267.4,2091 L296.68,2091 L325.96,2091 L355.24,2069 L384.52,2070.5 L413.8,2063.75 L443.08,2062.25 L472.36,2102 L501.64,2107.5 L530.92,2114.5 L560.2,2118.5" fill="none" stroke="#14935C" stroke-width="5" stroke-linejoin="round" stroke-linecap="butt" stroke-opacity="1"/>
<circle cx="121" cy="2065" r="3.4" fill="#3aa872"/>
<circle cx="135.44" cy="2066.36" r="3.4" fill="#3aa872"/>
<circle cx="149.87" cy="2067.71" r="3.4" fill="#3aa872"/>
<circle cx="164.24" cy="2065.84" r="3.4" fill="#3aa872"/>
<circle cx="178.61" cy="2063.88" r="3.4" fill="#3aa872"/>
<circle cx="193.1" cy="2063.75" r="3.4" fill="#3aa872"/>
<circle cx="207.6" cy="2063.75" r="3.4" fill="#3aa872"/>
<circle cx="217.28" cy="2073.98" r="3.4" fill="#3aa872"/>
<circle cx="226.5" cy="2085.16" r="3.4" fill="#3aa872"/>
<circle cx="235.73" cy="2096.35" r="3.4" fill="#3aa872"/>
<circle cx="248.46" cy="2096.34" r="3.4" fill="#3aa872"/>
<circle cx="262.42" cy="2092.4" r="3.4" fill="#3aa872"/>
<circle cx="276.72" cy="2091" r="3.4" fill="#3aa872"/>
<circle cx="291.22" cy="2091" r="3.4" fill="#3aa872"/>
<circle cx="305.72" cy="2091" r="3.4" fill="#3aa872"/>
<circle cx="320.22" cy="2091" r="3.4" fill="#3aa872"/>
<circle cx="332.97" cy="2085.74" r="3.4" fill="#3aa872"/>
<circle cx="344.56" cy="2077.03" r="3.4" fill="#3aa872"/>
<circle cx="356.38" cy="2069.06" r="3.4" fill="#3aa872"/>
<circle cx="370.86" cy="2069.8" r="3.4" fill="#3aa872"/>
<circle cx="385.32" cy="2070.32" r="3.4" fill="#3aa872"/>
<circle cx="399.45" cy="2067.06" r="3.4" fill="#3aa872"/>
<circle cx="413.58" cy="2063.8" r="3.4" fill="#3aa872"/>
<circle cx="428.05" cy="2063.02" r="3.4" fill="#3aa872"/>
<circle cx="442.53" cy="2062.28" r="3.4" fill="#3aa872"/>
<circle cx="451.36" cy="2073.48" r="3.4" fill="#3aa872"/>
<circle cx="459.95" cy="2085.16" r="3.4" fill="#3aa872"/>
<circle cx="468.55" cy="2096.83" r="3.4" fill="#3aa872"/>
<circle cx="480.3" cy="2103.49" r="3.4" fill="#3aa872"/>
<circle cx="494.56" cy="2106.17" r="3.4" fill="#3aa872"/>
<circle cx="508.73" cy="2109.2" r="3.4" fill="#3aa872"/>
<circle cx="522.83" cy="2112.57" r="3.4" fill="#3aa872"/>
<circle cx="537.05" cy="2115.34" r="3.4" fill="#3aa872"/>
<circle cx="551.42" cy="2117.3" r="3.4" fill="#3aa872"/>
<path d="M121,2078.75 L150.28,2075.5 L179.56,2075.5 L208.84,2074.5 L238.12,2107.5 L267.4,2107.5 L296.68,2107.5 L325.96,2107.5 L355.24,1922.5 L384.52,1902 L413.8,1886.75 L443.08,1874.25 L472.36,2106.25 L501.64,2104.75 L530.92,2104.75 L560.2,2103.5" fill="none" stroke="#111" stroke-width="3.2" stroke-linejoin="round" stroke-linecap="butt" stroke-opacity="1"/>
<path d="M121,2074.5 L150.28,2071.25 L179.56,2071.25 L208.84,2070.25 L238.12,2103.25 L267.4,2103.25 L296.68,2103.25 L325.96,2103.25 L355.24,1918.25 L384.52,1897.75 L413.8,1882.5 L443.08,1870 L472.36,2102 L501.64,2100.5 L530.92,2100.5 L560.2,2099.25 L560.2,2107.75 L530.92,2109 L501.64,2109 L472.36,2110.5 L443.08,1878.5 L413.8,1891 L384.52,1906.25 L355.24,1926.75 L325.96,2111.75 L296.68,2111.75 L267.4,2111.75 L238.12,2111.75 L208.84,2078.75 L179.56,2079.75 L150.28,2079.75 L121,2083 Z" fill="#A3A3AB" fill-opacity="1" stroke="#111" stroke-width="2.4" stroke-linejoin="miter"/>
<circle cx="121" cy="2078.75" r="3.7" fill="#111"/>
<circle cx="133.92" cy="2077.32" r="3.7" fill="#111"/>
<circle cx="146.84" cy="2075.88" r="3.7" fill="#111"/>
<circle cx="159.82" cy="2075.5" r="3.7" fill="#111"/>
<circle cx="172.82" cy="2075.5" r="3.7" fill="#111"/>
<circle cx="185.82" cy="2075.29" r="3.7" fill="#111"/>
<circle cx="198.81" cy="2074.84" r="3.7" fill="#111"/>
<circle cx="210.81" cy="2076.72" r="3.7" fill="#111"/>
<circle cx="219.43" cy="2086.44" r="3.7" fill="#111"/>
<circle cx="228.06" cy="2096.16" r="3.7" fill="#111"/>
<circle cx="236.69" cy="2105.89" r="3.7" fill="#111"/>
<circle cx="248.97" cy="2107.5" r="3.7" fill="#111"/>
<circle cx="261.97" cy="2107.5" r="3.7" fill="#111"/>
<circle cx="274.97" cy="2107.5" r="3.7" fill="#111"/>
<circle cx="287.97" cy="2107.5" r="3.7" fill="#111"/>
<circle cx="300.97" cy="2107.5" r="3.7" fill="#111"/>
<circle cx="313.97" cy="2107.5" r="3.7" fill="#111"/>
<circle cx="326.12" cy="2106.51" r="3.7" fill="#111"/>
<circle cx="328.15" cy="2093.67" r="3.7" fill="#111"/>
<circle cx="330.18" cy="2080.83" r="3.7" fill="#111"/>
<circle cx="332.21" cy="2067.99" r="3.7" fill="#111"/>
<circle cx="334.25" cy="2055.15" r="3.7" fill="#111"/>
<circle cx="336.28" cy="2042.31" r="3.7" fill="#111"/>
<circle cx="338.31" cy="2029.47" r="3.7" fill="#111"/>
<circle cx="340.34" cy="2016.63" r="3.7" fill="#111"/>
<circle cx="342.38" cy="2003.78" r="3.7" fill="#111"/>
<circle cx="344.41" cy="1990.94" r="3.7" fill="#111"/>
<circle cx="346.44" cy="1978.1" r="3.7" fill="#111"/>
<circle cx="348.47" cy="1965.26" r="3.7" fill="#111"/>
<circle cx="350.5" cy="1952.42" r="3.7" fill="#111"/>
<circle cx="352.54" cy="1939.58" r="3.7" fill="#111"/>
<circle cx="354.57" cy="1926.74" r="3.7" fill="#111"/>
<circle cx="362.37" cy="1917.51" r="3.7" fill="#111"/>
<circle cx="373.02" cy="1910.05" r="3.7" fill="#111"/>
<circle cx="383.67" cy="1902.6" r="3.7" fill="#111"/>
<circle cx="395.13" cy="1896.48" r="3.7" fill="#111"/>
<circle cx="406.66" cy="1890.47" r="3.7" fill="#111"/>
<circle cx="418.35" cy="1884.81" r="3.7" fill="#111"/>
<circle cx="430.31" cy="1879.7" r="3.7" fill="#111"/>
<circle cx="442.26" cy="1874.6" r="3.7" fill="#111"/>
<circle cx="444.6" cy="1886.26" r="3.7" fill="#111"/>
<circle cx="446.22" cy="1899.16" r="3.7" fill="#111"/>
<circle cx="447.85" cy="1912.06" r="3.7" fill="#111"/>
<circle cx="449.48" cy="1924.96" r="3.7" fill="#111"/>
<circle cx="451.11" cy="1937.86" r="3.7" fill="#111"/>
<circle cx="452.74" cy="1950.75" r="3.7" fill="#111"/>
<circle cx="454.36" cy="1963.65" r="3.7" fill="#111"/>
<circle cx="455.99" cy="1976.55" r="3.7" fill="#111"/>
<circle cx="457.62" cy="1989.45" r="3.7" fill="#111"/>
<circle cx="459.25" cy="2002.34" r="3.7" fill="#111"/>
<circle cx="460.87" cy="2015.24" r="3.7" fill="#111"/>
<circle cx="462.5" cy="2028.14" r="3.7" fill="#111"/>
<circle cx="464.13" cy="2041.04" r="3.7" fill="#111"/>
<circle cx="465.76" cy="2053.93" r="3.7" fill="#111"/>
<circle cx="467.39" cy="2066.83" r="3.7" fill="#111"/>
<circle cx="469.01" cy="2079.73" r="3.7" fill="#111"/>
<circle cx="470.64" cy="2092.63" r="3.7" fill="#111"/>
<circle cx="472.27" cy="2105.53" r="3.7" fill="#111"/>
<circle cx="484.61" cy="2105.62" r="3.7" fill="#111"/>
<circle cx="497.6" cy="2104.96" r="3.7" fill="#111"/>
<circle cx="510.59" cy="2104.75" r="3.7" fill="#111"/>
<circle cx="523.59" cy="2104.75" r="3.7" fill="#111"/>
<circle cx="536.59" cy="2104.51" r="3.7" fill="#111"/>
<circle cx="549.57" cy="2103.95" r="3.7" fill="#111"/>
<path d="M121,2103.5 L150.28,2099.75 L179.56,2099.75 L208.84,2099 L238.12,2150 L267.4,2150 L296.68,2149.75 L325.96,2149.25 L355.24,2032 L384.52,2026.5 L413.8,2028.75 L443.08,2028 L472.36,2157 L501.64,2155 L530.92,2158.5 L560.2,2162.5" fill="none" stroke="#111" stroke-width="8" stroke-linejoin="round" stroke-linecap="butt" stroke-opacity="1"/>
<line x1="121" y1="1811.7" x2="121" y2="2190.3" stroke="#111" stroke-width="3.6"/>
<line x1="109" y1="2188.5" x2="609" y2="2188.5" stroke="#111" stroke-width="3.6"/>
<line x1="109" y1="2188.5" x2="121" y2="2188.5" stroke="#111" stroke-width="3.6"/>
<text x="105" y="2200.31" font-size="33" font-weight="bold" text-anchor="end">0</text>
<line x1="109" y1="2063.5" x2="121" y2="2063.5" stroke="#111" stroke-width="3.6"/>
<text x="105" y="2075.31" font-size="33" font-weight="bold" text-anchor="end">500</text>
<line x1="109" y1="1938.5" x2="121" y2="1938.5" stroke="#111" stroke-width="3.6"/>
<text x="105" y="1950.31" font-size="33" font-weight="bold" text-anchor="end">1000</text>
<line x1="109" y1="1813.5" x2="121" y2="1813.5" stroke="#111" stroke-width="3.6"/>
<text x="105" y="1825.31" font-size="33" font-weight="bold" text-anchor="end">1500</text>
<text x="121" y="2223.5" font-size="33" font-weight="bold" text-anchor="middle">0</text>
<text x="218.6" y="2223.5" font-size="33" font-weight="bold" text-anchor="middle">20</text>
<text x="316.2" y="2223.5" font-size="33" font-weight="bold" text-anchor="middle">40</text>
<text x="413.8" y="2223.5" font-size="33" font-weight="bold" text-anchor="middle">60</text>
<text x="511.4" y="2223.5" font-size="33" font-weight="bold" text-anchor="middle">80</text>
<text x="609" y="2223.5" font-size="33" font-weight="bold" text-anchor="middle">100</text>
<line x1="127.4" y1="1729.5" x2="175.4" y2="1729.5" stroke="#111" stroke-width="8.8" stroke-linecap="round"/>
<line x1="284.1" y1="1733.7" x2="290.1" y2="1733.7" stroke="#111" stroke-width="8.8" stroke-linecap="round"/>
<line x1="299.7" y1="1733.7" x2="305.7" y2="1733.7" stroke="#111" stroke-width="8.8" stroke-linecap="round"/>
<line x1="315.3" y1="1733.7" x2="321.3" y2="1733.7" stroke="#111" stroke-width="8.8" stroke-linecap="round"/>
<text x="192" y="1740.5" font-size="24.8" font-weight="bold">DMSO</text>
<text x="335" y="1740.5" font-size="24.8" font-weight="bold">Drpitor1a</text>
<rect x="511" y="1720.3" width="20.6" height="19.8" fill="#1a1a1a"/>
<rect x="511" y="1745" width="20.6" height="20.3" fill="#14935C"/>
<text x="536" y="1739.5" font-size="24.8" font-weight="bold">STIFF</text>
<text x="536" y="1765.3" font-size="24.8" font-weight="bold">SOFT</text>
<text x="353.5" y="2259.1" font-size="25.3" font-weight="bold" text-anchor="middle">Time (min)</text>
<text x="365" y="2301" font-size="25.3" font-weight="bold" text-anchor="middle">MCF10A-RAS</text>
<text x="20" y="1993" font-size="25.3" font-weight="bold" text-anchor="middle" transform="rotate(-90 20 1993)">OCR (pmol/min/cell number)</text>
<text x="707" y="1720.5" font-size="27" font-weight="bold">p</text>
<line x1="942.75" y1="1843.3" x2="942.75" y2="2189.3" stroke="#111" stroke-width="3.6" stroke-dasharray="17 18.5"/>
<line x1="1033.61" y1="1843.3" x2="1033.61" y2="2189.3" stroke="#111" stroke-width="3.6" stroke-dasharray="17 18.5"/>
<line x1="1177.23" y1="1843.3" x2="1177.23" y2="2189.3" stroke="#111" stroke-width="3.6" stroke-dasharray="17 18.5"/>
<text x="910.9" y="1829.8" font-size="23" text-anchor="middle" textLength="69.8" lengthAdjust="spacingAndGlyphs">OLIGO</text>
<text x="1024.2" y="1829.8" font-size="23" text-anchor="middle" textLength="54.2" lengthAdjust="spacingAndGlyphs">FCCP</text>
<text x="1173.3" y="1829.8" font-size="23" text-anchor="middle" textLength="122.2" lengthAdjust="spacingAndGlyphs">ROT/ANTI A</text>
<path d="M826,2078.03 L855.31,2075.2 L884.62,2072.75 L913.93,2071.43 L943.24,2161.01 L972.55,2162.9 L1001.86,2164.78 L1031.17,2166.29 L1060.48,2117.07 L1089.79,2115.75 L1119.1,2114.8 L1148.41,2114.43 L1177.72,2170.44 L1207.03,2171.38 L1236.34,2172.7 L1265.65,2173.83 L1265.65,2183.64 L1236.34,2183.26 L1207.03,2182.51 L1177.72,2181.76 L1148.41,2144.79 L1119.1,2141.21 L1089.79,2141.21 L1060.48,2141.77 L1031.17,2180.81 L1001.86,2179.87 L972.55,2178.93 L943.24,2177.98 L913.93,2078.97 L884.62,2080.86 L855.31,2083.68 L826,2086.51 Z" fill="#7CC49A" fill-opacity="0.85" stroke="#14935C" stroke-width="2" stroke-linejoin="miter"/>
<path d="M826,2081.42 L855.31,2078.97 L884.62,2076.14 L913.93,2074.82 L943.24,2169.12 L972.55,2171.38 L1001.86,2174.59 L1031.17,2175.91 L1060.48,2119.9 L1089.79,2119.52 L1119.1,2119.9 L1148.41,2115.75 L1177.72,2171.95 L1207.03,2173.27 L1236.34,2175.72 L1265.65,2177.23" fill="none" stroke="#14935C" stroke-width="5" stroke-linejoin="round" stroke-linecap="butt" stroke-opacity="1"/>
<path d="M826,2078.59 L855.31,2076.14 L884.62,2073.88 L913.93,2072.37 L943.24,2158.18 L972.55,2161.01 L1001.86,2162.9 L1031.17,2164.78 L1060.48,2103.3 L1089.79,2101.41 L1119.1,2100.66 L1148.41,2094.06 L1177.72,2168.55 L1207.03,2170.44 L1236.34,2172.33 L1265.65,2174.21 L1265.65,2185.53 L1236.34,2185.15 L1207.03,2184.4 L1177.72,2183.64 L1148.41,2144.79 L1119.1,2141.21 L1089.79,2141.21 L1060.48,2141.77 L1031.17,2184.4 L1001.86,2184.02 L972.55,2183.64 L943.24,2182.89 L913.93,2087.46 L884.62,2088.4 L855.31,2091.23 L826,2103.3 Z" fill="#7CC49A" fill-opacity="0.85" stroke="#14935C" stroke-width="2" stroke-linejoin="miter"/>
<path d="M826,2086.89 L855.31,2083.68 L884.62,2081.42 L913.93,2078.59 L943.24,2175.91 L972.55,2176.85 L1001.86,2177.61 L1031.17,2177.98 L1060.48,2122.54 L1089.79,2122.54 L1119.1,2121.4 L1148.41,2125.36 L1177.72,2177.23 L1207.03,2178.36 L1236.34,2179.49 L1265.65,2180.06" fill="none" stroke="#14935C" stroke-width="4" stroke-linejoin="round" stroke-linecap="butt" stroke-opacity="1"/>
<path d="M826,2032.01 L855.31,2024.46 L884.62,2021.26 L913.93,2021.26 L943.24,2134.79 L972.55,2136.49 L1001.86,2138.38 L1031.17,2144.41 L1060.48,1885.47 L1089.79,1903.19 L1119.1,1897.72 L1148.41,1890.93 L1177.72,2156.3 L1207.03,2157.24 L1236.34,2158.18 L1265.65,2161.01 L1265.65,2164.78 L1236.34,2162.9 L1207.03,2161.95 L1177.72,2161.01 L1148.41,1919.6 L1119.1,1919.6 L1089.79,1922.43 L1060.48,1940.35 L1031.17,2146.87 L1001.86,2145.54 L972.55,2144.04 L943.24,2143.09 L913.93,2034.84 L884.62,2036.16 L855.31,2037.48 L826,2045.78 Z" fill="#A3A3AB" fill-opacity="1" stroke="#111" stroke-width="2.2" stroke-linejoin="miter"/>
<circle cx="826" cy="2040.31" r="3.6" fill="#111"/>
<circle cx="839.75" cy="2037.65" r="3.6" fill="#111"/>
<circle cx="853.49" cy="2035" r="3.6" fill="#111"/>
<circle cx="867.25" cy="2032.42" r="3.6" fill="#111"/>
<circle cx="881.02" cy="2029.85" r="3.6" fill="#111"/>
<circle cx="894.94" cy="2028.71" r="3.6" fill="#111"/>
<circle cx="908.93" cy="2028.08" r="3.6" fill="#111"/>
<circle cx="916.22" cy="2036.55" r="3.6" fill="#111"/>
<circle cx="919.8" cy="2050.09" r="3.6" fill="#111"/>
<circle cx="923.37" cy="2063.63" r="3.6" fill="#111"/>
<circle cx="926.94" cy="2077.16" r="3.6" fill="#111"/>
<circle cx="930.51" cy="2090.7" r="3.6" fill="#111"/>
<circle cx="934.08" cy="2104.24" r="3.6" fill="#111"/>
<circle cx="937.65" cy="2117.77" r="3.6" fill="#111"/>
<circle cx="941.23" cy="2131.31" r="3.6" fill="#111"/>
<circle cx="949.34" cy="2139.14" r="3.6" fill="#111"/>
<circle cx="963.34" cy="2139.59" r="3.6" fill="#111"/>
<circle cx="977.33" cy="2140.01" r="3.6" fill="#111"/>
<circle cx="991.32" cy="2140.37" r="3.6" fill="#111"/>
<circle cx="1005.29" cy="2141.08" r="3.6" fill="#111"/>
<circle cx="1019.18" cy="2142.87" r="3.6" fill="#111"/>
<circle cx="1031.41" cy="2142.52" r="3.6" fill="#111"/>
<circle cx="1033.2" cy="2128.63" r="3.6" fill="#111"/>
<circle cx="1034.99" cy="2114.75" r="3.6" fill="#111"/>
<circle cx="1036.78" cy="2100.86" r="3.6" fill="#111"/>
<circle cx="1038.57" cy="2086.98" r="3.6" fill="#111"/>
<circle cx="1040.36" cy="2073.09" r="3.6" fill="#111"/>
<circle cx="1042.15" cy="2059.21" r="3.6" fill="#111"/>
<circle cx="1043.94" cy="2045.32" r="3.6" fill="#111"/>
<circle cx="1045.73" cy="2031.44" r="3.6" fill="#111"/>
<circle cx="1047.52" cy="2017.55" r="3.6" fill="#111"/>
<circle cx="1049.31" cy="2003.67" r="3.6" fill="#111"/>
<circle cx="1051.1" cy="1989.78" r="3.6" fill="#111"/>
<circle cx="1052.89" cy="1975.9" r="3.6" fill="#111"/>
<circle cx="1054.67" cy="1962.01" r="3.6" fill="#111"/>
<circle cx="1056.46" cy="1948.13" r="3.6" fill="#111"/>
<circle cx="1058.25" cy="1934.24" r="3.6" fill="#111"/>
<circle cx="1060.04" cy="1920.36" r="3.6" fill="#111"/>
<circle cx="1070.91" cy="1915.22" r="3.6" fill="#111"/>
<circle cx="1084.72" cy="1912.91" r="3.6" fill="#111"/>
<circle cx="1098.65" cy="1911.77" r="3.6" fill="#111"/>
<circle cx="1112.64" cy="1911.32" r="3.6" fill="#111"/>
<circle cx="1126.63" cy="1910.97" r="3.6" fill="#111"/>
<circle cx="1140.63" cy="1910.7" r="3.6" fill="#111"/>
<circle cx="1149.14" cy="1916.73" r="3.6" fill="#111"/>
<circle cx="1150.79" cy="1930.63" r="3.6" fill="#111"/>
<circle cx="1152.43" cy="1944.53" r="3.6" fill="#111"/>
<circle cx="1154.08" cy="1958.43" r="3.6" fill="#111"/>
<circle cx="1155.72" cy="1972.34" r="3.6" fill="#111"/>
<circle cx="1157.37" cy="1986.24" r="3.6" fill="#111"/>
<circle cx="1159.01" cy="2000.14" r="3.6" fill="#111"/>
<circle cx="1160.66" cy="2014.05" r="3.6" fill="#111"/>
<circle cx="1162.31" cy="2027.95" r="3.6" fill="#111"/>
<circle cx="1163.95" cy="2041.85" r="3.6" fill="#111"/>
<circle cx="1165.6" cy="2055.75" r="3.6" fill="#111"/>
<circle cx="1167.24" cy="2069.66" r="3.6" fill="#111"/>
<circle cx="1168.89" cy="2083.56" r="3.6" fill="#111"/>
<circle cx="1170.53" cy="2097.46" r="3.6" fill="#111"/>
<circle cx="1172.18" cy="2111.37" r="3.6" fill="#111"/>
<circle cx="1173.82" cy="2125.27" r="3.6" fill="#111"/>
<circle cx="1175.47" cy="2139.17" r="3.6" fill="#111"/>
<circle cx="1177.12" cy="2153.08" r="3.6" fill="#111"/>
<circle cx="1186.57" cy="2158.47" r="3.6" fill="#111"/>
<circle cx="1200.57" cy="2158.92" r="3.6" fill="#111"/>
<circle cx="1214.56" cy="2159.37" r="3.6" fill="#111"/>
<circle cx="1228.55" cy="2159.82" r="3.6" fill="#111"/>
<circle cx="1242.52" cy="2160.66" r="3.6" fill="#111"/>
<circle cx="1256.46" cy="2162.01" r="3.6" fill="#111"/>
<path d="M826,2055.39 L855.31,2049.74 L884.62,2045.96 L913.93,2044.46 L943.24,2148.75 L972.55,2149.32 L1001.86,2150.64 L1031.17,2151.58 L1060.48,1941.48 L1089.79,1931.86 L1119.1,1919.6 L1148.41,1922.24 L1177.72,2162.9 L1207.03,2163.84 L1236.34,2164.78 L1265.65,2165.73 L1265.65,2168.93 L1236.34,2168.55 L1207.03,2168.18 L1177.72,2167.61 L1148.41,1956.57 L1119.1,1966.19 L1089.79,1982.59 L1060.48,1997.68 L1031.17,2156.3 L1001.86,2155.73 L972.55,2154.97 L943.24,2154.41 L913.93,2067.65 L884.62,2068.97 L855.31,2070.86 L826,2073.12 Z" fill="#A3A3AB" fill-opacity="1" stroke="#111" stroke-width="2.2" stroke-linejoin="miter"/>
<path d="M826,2065.01 L855.31,2060.86 L884.62,2058.03 L913.93,2056.71 L943.24,2151.39 L972.55,2151.96 L1001.86,2152.71 L1031.17,2152.71 L1060.48,1969.02 L1089.79,1960.72 L1119.1,1944.31 L1148.41,1938.84 L1177.72,2165.16 L1207.03,2165.35 L1236.34,2165.91 L1265.65,2166.48" fill="none" stroke="#111" stroke-width="8" stroke-linejoin="round" stroke-linecap="butt" stroke-opacity="1"/>
<line x1="826.5" y1="1810.3" x2="826.5" y2="2191.1" stroke="#111" stroke-width="3.6"/>
<line x1="814.5" y1="2189.3" x2="1312.4" y2="2189.3" stroke="#111" stroke-width="3.6"/>
<line x1="814.5" y1="2189.3" x2="826.5" y2="2189.3" stroke="#111" stroke-width="3.6"/>
<text x="810.5" y="2201.11" font-size="33" font-weight="bold" text-anchor="end">0</text>
<line x1="814.5" y1="2095" x2="826.5" y2="2095" stroke="#111" stroke-width="3.6"/>
<text x="810.5" y="2106.81" font-size="33" font-weight="bold" text-anchor="end">500</text>
<line x1="814.5" y1="2000.7" x2="826.5" y2="2000.7" stroke="#111" stroke-width="3.6"/>
<text x="810.5" y="2012.51" font-size="33" font-weight="bold" text-anchor="end">1000</text>
<line x1="814.5" y1="1906.4" x2="826.5" y2="1906.4" stroke="#111" stroke-width="3.6"/>
<text x="810.5" y="1918.21" font-size="33" font-weight="bold" text-anchor="end">1500</text>
<line x1="814.5" y1="1812.1" x2="826.5" y2="1812.1" stroke="#111" stroke-width="3.6"/>
<text x="810.5" y="1823.91" font-size="33" font-weight="bold" text-anchor="end">2000</text>
<text x="826" y="2224.3" font-size="33" font-weight="bold" text-anchor="middle">0</text>
<text x="923.7" y="2224.3" font-size="33" font-weight="bold" text-anchor="middle">20</text>
<text x="1021.4" y="2224.3" font-size="33" font-weight="bold" text-anchor="middle">40</text>
<text x="1119.1" y="2224.3" font-size="33" font-weight="bold" text-anchor="middle">60</text>
<text x="1216.8" y="2224.3" font-size="33" font-weight="bold" text-anchor="middle">80</text>
<text x="1314.5" y="2224.3" font-size="33" font-weight="bold" text-anchor="middle">100</text>
<line x1="834.6" y1="1733.8" x2="882.6" y2="1733.8" stroke="#111" stroke-width="8.8" stroke-linecap="round"/>
<line x1="990.2" y1="1733.8" x2="996.2" y2="1733.8" stroke="#111" stroke-width="8.8" stroke-linecap="round"/>
<line x1="1005.8" y1="1733.8" x2="1011.8" y2="1733.8" stroke="#111" stroke-width="8.8" stroke-linecap="round"/>
<line x1="1021.4" y1="1733.8" x2="1027.4" y2="1733.8" stroke="#111" stroke-width="8.8" stroke-linecap="round"/>
<text x="901.3" y="1744.8" font-size="24.8" font-weight="bold">shCO</text>
<text x="1051.9" y="1744.8" font-size="24.8" font-weight="bold">shDrp1a</text>
<rect x="1208.6" y="1720.3" width="20.6" height="19.8" fill="#1a1a1a"/>
<rect x="1208.6" y="1745" width="20.6" height="20.3" fill="#14935C"/>
<text x="1234.8" y="1739.5" font-size="24.8" font-weight="bold">STIFF</text>
<text x="1234.8" y="1765.3" font-size="24.8" font-weight="bold">SOFT</text>
<text x="1058.8" y="2258.2" font-size="25.3" font-weight="bold" text-anchor="middle">Time (min)</text>
<text x="1058.8" y="2299.5" font-size="25.3" font-weight="bold" text-anchor="middle">D2.0R</text>
<text x="721.8" y="1993" font-size="25.3" font-weight="bold" text-anchor="middle" transform="rotate(-90 721.8 1993)">OCR (pmol/min/cell number)</text>
<text x="1422" y="1719" font-size="27" font-weight="bold">q</text>
<line x1="1657.71" y1="1843.3" x2="1657.71" y2="2190" stroke="#111" stroke-width="3.6" stroke-dasharray="17 18.5"/>
<line x1="1750.56" y1="1843.3" x2="1750.56" y2="2190" stroke="#111" stroke-width="3.6" stroke-dasharray="17 18.5"/>
<line x1="1895.22" y1="1843.3" x2="1895.22" y2="2190" stroke="#111" stroke-width="3.6" stroke-dasharray="17 18.5"/>
<text x="1649" y="1827" font-size="23" text-anchor="middle" textLength="69.8" lengthAdjust="spacingAndGlyphs">OLIGO</text>
<text x="1752.7" y="1827" font-size="23" text-anchor="middle" textLength="54.2" lengthAdjust="spacingAndGlyphs">FCCP</text>
<text x="1911" y="1827" font-size="23" text-anchor="middle" textLength="122.2" lengthAdjust="spacingAndGlyphs">ROT/ANTI A</text>
<path d="M1541.4,2081.44 L1570.72,2075.96 L1600.04,2074.64 L1629.37,2073.13 L1658.69,2096.54 L1688.01,2097.49 L1717.33,2098.43 L1746.65,2099.38 L1775.98,1908.5 L1805.3,1912.46 L1834.62,1915.3 L1863.94,1919.45 L1893.26,2136.38 L1922.59,2135.63 L1951.91,2135.25 L1981.23,2134.87 L1981.23,2149.41 L1951.91,2149.97 L1922.59,2150.35 L1893.26,2151.48 L1863.94,1945.69 L1834.62,1944.56 L1805.3,1942.67 L1775.98,1940.03 L1746.65,2126.75 L1717.33,2125.81 L1688.01,2124.86 L1658.69,2123.92 L1629.37,2111.65 L1600.04,2114.48 L1570.72,2118.44 L1541.4,2122.6 Z" fill="#A3A3AB" fill-opacity="1" stroke="#111" stroke-width="2.2" stroke-linejoin="miter"/>
<path d="M1541.4,2080.5 L1570.72,2076.72 L1600.04,2073.89 L1629.37,2072.94 L1658.69,2171.12 L1688.01,2171.12 L1717.33,2167.34 L1746.65,2166.4 L1775.98,2107.49 L1805.3,2106.93 L1834.62,2105.98 L1863.94,2106.93 L1893.26,2173.01 L1922.59,2173.95 L1951.91,2175.84 L1981.23,2176.78 L1981.23,2189.06 L1951.91,2189.06 L1922.59,2188.49 L1893.26,2188.11 L1863.94,2155.64 L1834.62,2155.07 L1805.3,2155.07 L1775.98,2155.64 L1746.65,2186.22 L1717.33,2187.17 L1688.01,2188.11 L1658.69,2188.11 L1629.37,2086.16 L1600.04,2086.16 L1570.72,2088.05 L1541.4,2091.82 Z" fill="#7CC49A" fill-opacity="0.85" stroke="#14935C" stroke-width="2" stroke-linejoin="miter"/>
<path d="M1541.4,2085.4 L1570.72,2084.27 L1600.04,2081.44 L1629.37,2081.44 L1658.69,2180.18 L1688.01,2178.67 L1717.33,2174.9 L1746.65,2173.39 L1775.98,2130.53 L1805.3,2129.96 L1834.62,2129.96 L1863.94,2129.58 L1893.26,2180.18 L1922.59,2181.5 L1951.91,2183.39 L1981.23,2185.85" fill="none" stroke="#14935C" stroke-width="5" stroke-linejoin="round" stroke-linecap="butt" stroke-opacity="1"/>
<path d="M1541.4,2092.58 L1570.72,2091.82 L1600.04,2090.31 L1629.37,2089.75 L1658.69,2173.39 L1688.01,2172.06 L1717.33,2170.18 L1746.65,2167.91 L1775.98,2122.6 L1805.3,2122.6 L1834.62,2122.6 L1863.94,2122.6 L1893.26,2176.22 L1922.59,2178.67 L1951.91,2181.5 L1981.23,2183.2" fill="none" stroke="#14935C" stroke-width="4" stroke-linejoin="round" stroke-linecap="butt" stroke-opacity="1"/>
<circle cx="1541.4" cy="2092.58" r="3.4" fill="#3aa872"/>
<circle cx="1555.9" cy="2092.21" r="3.4" fill="#3aa872"/>
<circle cx="1570.39" cy="2091.83" r="3.4" fill="#3aa872"/>
<circle cx="1584.87" cy="2091.1" r="3.4" fill="#3aa872"/>
<circle cx="1599.35" cy="2090.35" r="3.4" fill="#3aa872"/>
<circle cx="1613.85" cy="2090.05" r="3.4" fill="#3aa872"/>
<circle cx="1628.35" cy="2089.77" r="3.4" fill="#3aa872"/>
<circle cx="1633.83" cy="2102.47" r="3.4" fill="#3aa872"/>
<circle cx="1638.62" cy="2116.15" r="3.4" fill="#3aa872"/>
<circle cx="1643.42" cy="2129.83" r="3.4" fill="#3aa872"/>
<circle cx="1648.22" cy="2143.52" r="3.4" fill="#3aa872"/>
<circle cx="1653.01" cy="2157.2" r="3.4" fill="#3aa872"/>
<circle cx="1657.81" cy="2170.89" r="3.4" fill="#3aa872"/>
<circle cx="1670.53" cy="2172.85" r="3.4" fill="#3aa872"/>
<circle cx="1685.01" cy="2172.2" r="3.4" fill="#3aa872"/>
<circle cx="1699.49" cy="2171.33" r="3.4" fill="#3aa872"/>
<circle cx="1713.96" cy="2170.39" r="3.4" fill="#3aa872"/>
<circle cx="1728.42" cy="2169.32" r="3.4" fill="#3aa872"/>
<circle cx="1742.87" cy="2168.2" r="3.4" fill="#3aa872"/>
<circle cx="1752.47" cy="2158.92" r="3.4" fill="#3aa872"/>
<circle cx="1760.35" cy="2146.75" r="3.4" fill="#3aa872"/>
<circle cx="1768.23" cy="2134.57" r="3.4" fill="#3aa872"/>
<circle cx="1776.21" cy="2122.6" r="3.4" fill="#3aa872"/>
<circle cx="1790.71" cy="2122.6" r="3.4" fill="#3aa872"/>
<circle cx="1805.21" cy="2122.6" r="3.4" fill="#3aa872"/>
<circle cx="1819.71" cy="2122.6" r="3.4" fill="#3aa872"/>
<circle cx="1834.21" cy="2122.6" r="3.4" fill="#3aa872"/>
<circle cx="1848.71" cy="2122.6" r="3.4" fill="#3aa872"/>
<circle cx="1863.21" cy="2122.6" r="3.4" fill="#3aa872"/>
<circle cx="1870.55" cy="2134.68" r="3.4" fill="#3aa872"/>
<circle cx="1877.51" cy="2147.4" r="3.4" fill="#3aa872"/>
<circle cx="1884.46" cy="2160.12" r="3.4" fill="#3aa872"/>
<circle cx="1891.42" cy="2172.84" r="3.4" fill="#3aa872"/>
<circle cx="1903.88" cy="2177.11" r="3.4" fill="#3aa872"/>
<circle cx="1918.33" cy="2178.32" r="3.4" fill="#3aa872"/>
<circle cx="1932.77" cy="2179.66" r="3.4" fill="#3aa872"/>
<circle cx="1947.2" cy="2181.05" r="3.4" fill="#3aa872"/>
<circle cx="1961.66" cy="2182.07" r="3.4" fill="#3aa872"/>
<circle cx="1976.14" cy="2182.91" r="3.4" fill="#3aa872"/>
<circle cx="1541.4" cy="2104.85" r="3.6" fill="#111"/>
<circle cx="1555.16" cy="2102.28" r="3.6" fill="#111"/>
<circle cx="1568.92" cy="2099.71" r="3.6" fill="#111"/>
<circle cx="1582.67" cy="2097.07" r="3.6" fill="#111"/>
<circle cx="1596.42" cy="2094.41" r="3.6" fill="#111"/>
<circle cx="1610.31" cy="2092.79" r="3.6" fill="#111"/>
<circle cx="1624.25" cy="2091.53" r="3.6" fill="#111"/>
<circle cx="1637.1" cy="2095.4" r="3.6" fill="#111"/>
<circle cx="1649.32" cy="2102.24" r="3.6" fill="#111"/>
<circle cx="1661.94" cy="2107.64" r="3.6" fill="#111"/>
<circle cx="1675.93" cy="2108.27" r="3.6" fill="#111"/>
<circle cx="1689.91" cy="2108.94" r="3.6" fill="#111"/>
<circle cx="1703.88" cy="2109.84" r="3.6" fill="#111"/>
<circle cx="1717.85" cy="2110.74" r="3.6" fill="#111"/>
<circle cx="1731.81" cy="2111.82" r="3.6" fill="#111"/>
<circle cx="1745.77" cy="2112.9" r="3.6" fill="#111"/>
<circle cx="1748.67" cy="2100.01" r="3.6" fill="#111"/>
<circle cx="1750.83" cy="2086.18" r="3.6" fill="#111"/>
<circle cx="1752.99" cy="2072.35" r="3.6" fill="#111"/>
<circle cx="1755.15" cy="2058.51" r="3.6" fill="#111"/>
<circle cx="1757.3" cy="2044.68" r="3.6" fill="#111"/>
<circle cx="1759.46" cy="2030.85" r="3.6" fill="#111"/>
<circle cx="1761.62" cy="2017.02" r="3.6" fill="#111"/>
<circle cx="1763.77" cy="2003.18" r="3.6" fill="#111"/>
<circle cx="1765.93" cy="1989.35" r="3.6" fill="#111"/>
<circle cx="1768.09" cy="1975.52" r="3.6" fill="#111"/>
<circle cx="1770.24" cy="1961.68" r="3.6" fill="#111"/>
<circle cx="1772.4" cy="1947.85" r="3.6" fill="#111"/>
<circle cx="1774.56" cy="1934.02" r="3.6" fill="#111"/>
<circle cx="1780.76" cy="1925.2" r="3.6" fill="#111"/>
<circle cx="1794.74" cy="1926.01" r="3.6" fill="#111"/>
<circle cx="1808.72" cy="1926.84" r="3.6" fill="#111"/>
<circle cx="1822.69" cy="1927.74" r="3.6" fill="#111"/>
<circle cx="1836.64" cy="1928.84" r="3.6" fill="#111"/>
<circle cx="1850.46" cy="1931.06" r="3.6" fill="#111"/>
<circle cx="1863.99" cy="1933.57" r="3.6" fill="#111"/>
<circle cx="1865.93" cy="1947.44" r="3.6" fill="#111"/>
<circle cx="1867.86" cy="1961.3" r="3.6" fill="#111"/>
<circle cx="1869.8" cy="1975.17" r="3.6" fill="#111"/>
<circle cx="1871.74" cy="1989.03" r="3.6" fill="#111"/>
<circle cx="1873.67" cy="2002.9" r="3.6" fill="#111"/>
<circle cx="1875.61" cy="2016.76" r="3.6" fill="#111"/>
<circle cx="1877.54" cy="2030.63" r="3.6" fill="#111"/>
<circle cx="1879.48" cy="2044.49" r="3.6" fill="#111"/>
<circle cx="1881.42" cy="2058.36" r="3.6" fill="#111"/>
<circle cx="1883.35" cy="2072.23" r="3.6" fill="#111"/>
<circle cx="1885.29" cy="2086.09" r="3.6" fill="#111"/>
<circle cx="1887.23" cy="2099.96" r="3.6" fill="#111"/>
<circle cx="1889.16" cy="2113.82" r="3.6" fill="#111"/>
<circle cx="1891.1" cy="2127.69" r="3.6" fill="#111"/>
<circle cx="1893.04" cy="2141.55" r="3.6" fill="#111"/>
<circle cx="1905.62" cy="2142.86" r="3.6" fill="#111"/>
<circle cx="1919.61" cy="2142.5" r="3.6" fill="#111"/>
<circle cx="1933.61" cy="2142.28" r="3.6" fill="#111"/>
<circle cx="1947.61" cy="2142.1" r="3.6" fill="#111"/>
<circle cx="1961.61" cy="2141.98" r="3.6" fill="#111"/>
<circle cx="1975.61" cy="2141.89" r="3.6" fill="#111"/>
<path d="M1541.4,2056.9 L1570.72,2049.91 L1600.04,2048.4 L1629.37,2047.08 L1658.69,2152.24 L1688.01,2153.18 L1717.33,2154.13 L1746.65,2154.51 L1775.98,1945.69 L1805.3,1948.34 L1834.62,1952.49 L1863.94,1949.85 L1893.26,2165.46 L1922.59,2165.83 L1951.91,2166.21 L1981.23,2166.59 L1981.23,2168.85 L1951.91,2168.48 L1922.59,2168.1 L1893.26,2167.72 L1863.94,1985.34 L1834.62,1978.54 L1805.3,1982.7 L1775.98,1997.8 L1746.65,2158.28 L1717.33,2157.9 L1688.01,2156.96 L1658.69,2156.02 L1629.37,2070.49 L1600.04,2069.17 L1570.72,2069.17 L1541.4,2075.96 Z" fill="#A3A3AB" fill-opacity="1" stroke="#111" stroke-width="2.2" stroke-linejoin="miter"/>
<path d="M1541.4,2067.28 L1570.72,2062.18 L1600.04,2059.54 L1629.37,2059.54 L1658.69,2154.13 L1688.01,2155.64 L1717.33,2156.96 L1746.65,2156.96 L1775.98,1971.75 L1805.3,1967.59 L1834.62,1966.27 L1863.94,1967.59 L1893.26,2166.59 L1922.59,2166.97 L1951.91,2167.34 L1981.23,2167.91" fill="none" stroke="#111" stroke-width="8" stroke-linejoin="round" stroke-linecap="butt" stroke-opacity="1"/>
<line x1="1541.8" y1="1810.6" x2="1541.8" y2="2191.8" stroke="#111" stroke-width="3.6"/>
<line x1="1529.8" y1="2190" x2="2030.1" y2="2190" stroke="#111" stroke-width="3.6"/>
<line x1="1529.8" y1="2190" x2="1541.8" y2="2190" stroke="#111" stroke-width="3.6"/>
<text x="1525.8" y="2201.81" font-size="33" font-weight="bold" text-anchor="end">0</text>
<line x1="1529.8" y1="2095.6" x2="1541.8" y2="2095.6" stroke="#111" stroke-width="3.6"/>
<text x="1525.8" y="2107.41" font-size="33" font-weight="bold" text-anchor="end">500</text>
<line x1="1529.8" y1="2001.2" x2="1541.8" y2="2001.2" stroke="#111" stroke-width="3.6"/>
<text x="1525.8" y="2013.01" font-size="33" font-weight="bold" text-anchor="end">1000</text>
<line x1="1529.8" y1="1906.8" x2="1541.8" y2="1906.8" stroke="#111" stroke-width="3.6"/>
<text x="1525.8" y="1918.61" font-size="33" font-weight="bold" text-anchor="end">1500</text>
<line x1="1529.8" y1="1812.4" x2="1541.8" y2="1812.4" stroke="#111" stroke-width="3.6"/>
<text x="1525.8" y="1824.21" font-size="33" font-weight="bold" text-anchor="end">2000</text>
<text x="1541.4" y="2225" font-size="33" font-weight="bold" text-anchor="middle">0</text>
<text x="1639.14" y="2225" font-size="33" font-weight="bold" text-anchor="middle">20</text>
<text x="1736.88" y="2225" font-size="33" font-weight="bold" text-anchor="middle">40</text>
<text x="1834.62" y="2225" font-size="33" font-weight="bold" text-anchor="middle">60</text>
<text x="1932.36" y="2225" font-size="33" font-weight="bold" text-anchor="middle">80</text>
<text x="2030.1" y="2225" font-size="33" font-weight="bold" text-anchor="middle">100</text>
<line x1="1548.5" y1="1732.6" x2="1596.5" y2="1732.6" stroke="#111" stroke-width="8.8" stroke-linecap="round"/>
<line x1="1704.1" y1="1732.6" x2="1710.1" y2="1732.6" stroke="#111" stroke-width="8.8" stroke-linecap="round"/>
<line x1="1719.7" y1="1732.6" x2="1725.7" y2="1732.6" stroke="#111" stroke-width="8.8" stroke-linecap="round"/>
<line x1="1735.3" y1="1732.6" x2="1741.3" y2="1732.6" stroke="#111" stroke-width="8.8" stroke-linecap="round"/>
<text x="1613.3" y="1743.6" font-size="24.8" font-weight="bold">DMSO</text>
<text x="1767" y="1743.6" font-size="24.8" font-weight="bold">Drpitor1a</text>
<rect x="1930.2" y="1723" width="20.6" height="19.8" fill="#1a1a1a"/>
<rect x="1930.2" y="1747.7" width="20.6" height="20.3" fill="#14935C"/>
<text x="1955.2" y="1742.2" font-size="24.8" font-weight="bold">STIFF</text>
<text x="1955.2" y="1768" font-size="24.8" font-weight="bold">SOFT</text>
<text x="1788.8" y="2256" font-size="25.3" font-weight="bold" text-anchor="middle">Time (min)</text>
<text x="1801.5" y="2298" font-size="25.3" font-weight="bold" text-anchor="middle">D2.0R</text>
<text x="1440.7" y="1992" font-size="25.3" font-weight="bold" text-anchor="middle" transform="rotate(-90 1440.7 1992)">OCR (pmol/min/cell number)</text>
</svg>
</body></html>
